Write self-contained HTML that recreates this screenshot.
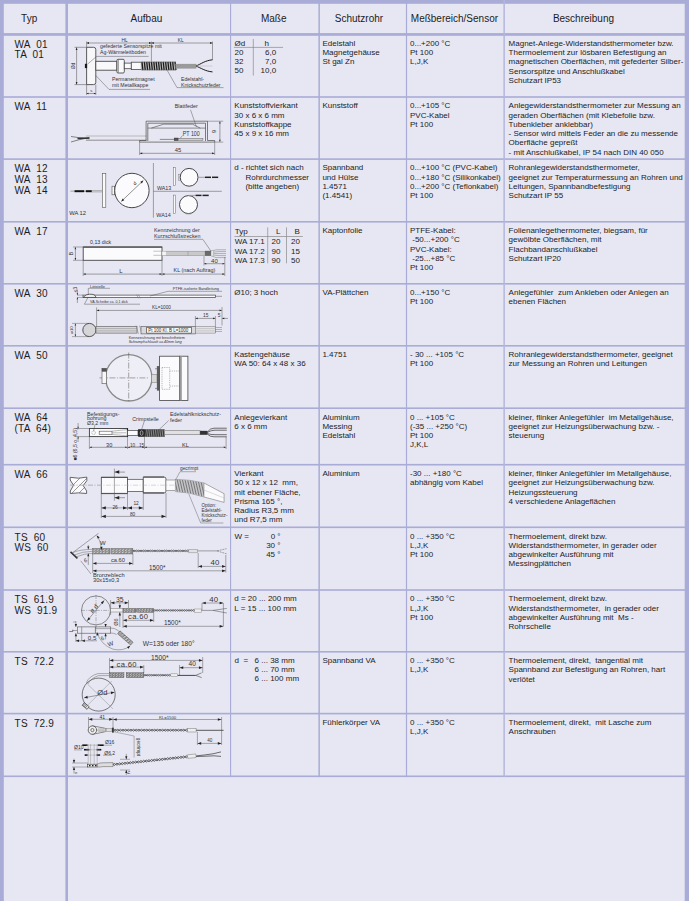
<!DOCTYPE html>
<html><head><meta charset="utf-8"><style>
html,body{margin:0;padding:0;}
body{width:689px;height:901px;position:relative;overflow:hidden;background:#e7e7f3;font-family:"Liberation Sans",sans-serif;color:#1c1c1c;}
</style></head><body>
<svg style="position:absolute;left:0;top:0" width="689" height="901"><rect x="0" y="0" width="689" height="3.8" fill="#a8acd6"/><rect x="0" y="0" width="3.8" height="901" fill="#a8acd6"/><rect x="684.7" y="0" width="4.3" height="901" fill="#a8acd6"/><rect x="0" y="33.1" width="689" height="2.7" fill="#a8acd6"/><rect x="65.4" y="0" width="2.6" height="901" fill="#a8acd6"/><rect x="0" y="96.2" width="689" height="1.6" fill="#a8acd6"/><rect x="0" y="158.29999999999998" width="689" height="1.6" fill="#a8acd6"/><rect x="0" y="221.0" width="689" height="1.6" fill="#a8acd6"/><rect x="0" y="283.0" width="689" height="1.6" fill="#a8acd6"/><rect x="0" y="345.0" width="689" height="1.6" fill="#a8acd6"/><rect x="0" y="407.4" width="689" height="1.6" fill="#a8acd6"/><rect x="0" y="463.9" width="689" height="1.6" fill="#a8acd6"/><rect x="0" y="526.5" width="689" height="1.6" fill="#a8acd6"/><rect x="0" y="589.2" width="689" height="1.6" fill="#a8acd6"/><rect x="0" y="651.0" width="689" height="1.6" fill="#a8acd6"/><rect x="0" y="712.8000000000001" width="689" height="1.6" fill="#a8acd6"/><rect x="0" y="775.5" width="689" height="1.6" fill="#a8acd6"/><rect x="230.0" y="0" width="1.15" height="777.1" fill="#a8acd6"/><rect x="318.4" y="0" width="1.5" height="777.1" fill="#a8acd6"/><rect x="405.9" y="0" width="1.2" height="777.1" fill="#a8acd6"/><rect x="503.4" y="0" width="1.5" height="777.1" fill="#b4b7dc"/></svg>
<div style="position:absolute;left:21.1px;top:13.88px;font-size:10px;line-height:10.7px;white-space:pre">Typ</div>
<div style="position:absolute;left:130.6px;top:13.88px;font-size:10px;line-height:10.7px;white-space:pre">Aufbau</div>
<div style="position:absolute;left:260.9px;top:13.88px;font-size:10px;line-height:10.7px;white-space:pre">Maße</div>
<div style="position:absolute;left:334.8px;top:13.88px;font-size:10px;line-height:10.7px;white-space:pre">Schutzrohr</div>
<div style="position:absolute;left:410.8px;top:13.88px;font-size:10px;line-height:10.7px;white-space:pre">Meßbereich/Sensor</div>
<div style="position:absolute;left:552.9px;top:13.88px;font-size:10px;line-height:10.7px;white-space:pre">Beschreibung</div>
<div style="position:absolute;left:14.6px;top:39.78px;font-size:10px;line-height:10.7px;white-space:pre;letter-spacing:0.2px">WA  01
TA  01</div>
<div style="position:absolute;left:322.4px;top:38.80px;font-size:8px;line-height:9.25px;white-space:pre">Edelstahl
Magnetgehäuse
St gal Zn</div>
<div style="position:absolute;left:410px;top:38.80px;font-size:8px;line-height:9.25px;white-space:pre">0...+200 °C
Pt 100
L,J,K</div>
<div style="position:absolute;left:508.6px;top:38.80px;font-size:8px;line-height:9.25px;white-space:pre">Magnet-Anlege-Widerstandsthermometer bzw.
Thermoelement zur lösbaren Befestigung an
magnetischen Oberflächen, mit gefederter Silber-
Sensorspitze und Anschlußkabel
Schutzart IP53</div>
<div style="position:absolute;left:14.6px;top:102.28px;font-size:10px;line-height:10.7px;white-space:pre;letter-spacing:0.2px">WA  11</div>
<div style="position:absolute;left:234.3px;top:101.30px;font-size:8px;line-height:9.25px;white-space:pre">Kunststoffvierkant
30 x 6 x 6 mm
Kunststoffkappe
45 x 9 x 16 mm</div>
<div style="position:absolute;left:322.4px;top:101.30px;font-size:8px;line-height:9.25px;white-space:pre">Kunststoff</div>
<div style="position:absolute;left:410px;top:101.30px;font-size:8px;line-height:9.25px;white-space:pre">0...+105 °C
PVC-Kabel
Pt 100</div>
<div style="position:absolute;left:508.6px;top:101.30px;font-size:8px;line-height:9.25px;white-space:pre">Anlegewiderstandsthermometer zur Messung an
geraden Oberflächen (mit Klebefolie bzw.
Tubenkleber anklebbar)
- Sensor wird mittels Feder an die zu messende
Oberfläche gepreßt
- mit Anschlußkabel, IP 54 nach DIN 40 050</div>
<div style="position:absolute;left:14.6px;top:164.38px;font-size:10px;line-height:10.7px;white-space:pre;letter-spacing:0.2px">WA  12
WA  13
WA  14</div>
<div style="position:absolute;left:234.3px;top:163.40px;font-size:8px;line-height:9.25px;white-space:pre">d - richtet sich nach
     Rohrdurchmesser
     (bitte angeben)</div>
<div style="position:absolute;left:322.4px;top:163.40px;font-size:8px;line-height:9.25px;white-space:pre">Spannband
und Hülse
1.4571
(1.4541)</div>
<div style="position:absolute;left:410px;top:163.40px;font-size:8px;line-height:9.25px;white-space:pre">0...+100 °C (PVC-Kabel)
0...+180 °C (Silikonkabel)
0...+200 °C (Teflonkabel)
Pt 100</div>
<div style="position:absolute;left:508.6px;top:163.40px;font-size:8px;line-height:9.25px;white-space:pre">Rohranlegewiderstandsthermometer,
geeignet zur Temperaturmessung an Rohren und
Leitungen, Spannbandbefestigung
Schutzart IP 55</div>
<div style="position:absolute;left:14.6px;top:227.08px;font-size:10px;line-height:10.7px;white-space:pre;letter-spacing:0.2px">WA  17</div>
<div style="position:absolute;left:322.4px;top:226.10px;font-size:8px;line-height:9.25px;white-space:pre">Kaptonfolie</div>
<div style="position:absolute;left:410px;top:226.10px;font-size:8px;line-height:9.25px;white-space:pre">PTFE-Kabel:
 -50...+200 °C
PVC-Kabel:
 -25...+85 °C
Pt 100</div>
<div style="position:absolute;left:508.6px;top:226.10px;font-size:8px;line-height:9.25px;white-space:pre">Folienanlegethermometer, biegsam, für
gewölbte Oberflächen, mit
Flachbandanschlußkabel
Schutzart IP20</div>
<div style="position:absolute;left:14.6px;top:289.08px;font-size:10px;line-height:10.7px;white-space:pre;letter-spacing:0.2px">WA  30</div>
<div style="position:absolute;left:234.3px;top:288.10px;font-size:8px;line-height:9.25px;white-space:pre">Ø10; 3 hoch</div>
<div style="position:absolute;left:322.4px;top:288.10px;font-size:8px;line-height:9.25px;white-space:pre">VA-Plättchen</div>
<div style="position:absolute;left:410px;top:288.10px;font-size:8px;line-height:9.25px;white-space:pre">0...+150 °C
Pt 100</div>
<div style="position:absolute;left:508.6px;top:288.10px;font-size:8px;line-height:9.25px;white-space:pre">Anlegefühler  zum Ankleben oder Anlegen an
ebenen Flächen</div>
<div style="position:absolute;left:14.6px;top:351.08px;font-size:10px;line-height:10.7px;white-space:pre;letter-spacing:0.2px">WA  50</div>
<div style="position:absolute;left:234.3px;top:350.10px;font-size:8px;line-height:9.25px;white-space:pre">Kastengehäuse
WA 50: 64 x 48 x 36</div>
<div style="position:absolute;left:322.4px;top:350.10px;font-size:8px;line-height:9.25px;white-space:pre">1.4751</div>
<div style="position:absolute;left:410px;top:350.10px;font-size:8px;line-height:9.25px;white-space:pre">- 30 ... +105 °C
Pt 100</div>
<div style="position:absolute;left:508.6px;top:350.10px;font-size:8px;line-height:9.25px;white-space:pre">Rohranlegewiderstandsthermometer, geeignet
zur Messung an Rohren und Leitungen</div>
<div style="position:absolute;left:14.6px;top:413.48px;font-size:10px;line-height:10.7px;white-space:pre;letter-spacing:0.2px">WA  64
(TA  64)</div>
<div style="position:absolute;left:234.3px;top:412.50px;font-size:8px;line-height:9.25px;white-space:pre">Anlegevierkant
6 x 6 mm</div>
<div style="position:absolute;left:322.4px;top:412.50px;font-size:8px;line-height:9.25px;white-space:pre">Aluminium
Messing
Edelstahl</div>
<div style="position:absolute;left:410px;top:412.50px;font-size:8px;line-height:9.25px;white-space:pre">0 ... +105 °C
(-35 ... +250 °C)
Pt 100
J,K,L</div>
<div style="position:absolute;left:508.6px;top:412.50px;font-size:8px;line-height:9.25px;white-space:pre">kleiner, flinker Anlegefühler  im Metallgehäuse,
geeignet zur Heizungsüberwachung bzw. -
steuerung</div>
<div style="position:absolute;left:14.6px;top:469.98px;font-size:10px;line-height:10.7px;white-space:pre;letter-spacing:0.2px">WA  66</div>
<div style="position:absolute;left:234.3px;top:469.00px;font-size:8px;line-height:9.25px;white-space:pre">Vierkant
50 x 12 x 12  mm,
mit ebener Fläche,
Prisma 165 °,
Radius R3,5 mm
und R7,5 mm</div>
<div style="position:absolute;left:322.4px;top:469.00px;font-size:8px;line-height:9.25px;white-space:pre">Aluminium</div>
<div style="position:absolute;left:410px;top:469.00px;font-size:8px;line-height:9.25px;white-space:pre">-30 ... +180 °C
abhängig vom Kabel</div>
<div style="position:absolute;left:508.6px;top:469.00px;font-size:8px;line-height:9.25px;white-space:pre">kleiner, flinker Anlegefühler im Metallgehäuse,
geeignet zur Heizungsüberwachung bzw.
Heizungssteuerung
4 verschiedene Anlageflächen</div>
<div style="position:absolute;left:14.6px;top:532.58px;font-size:10px;line-height:10.7px;white-space:pre;letter-spacing:0.2px">TS  60
WS  60</div>
<div style="position:absolute;left:410px;top:531.60px;font-size:8px;line-height:9.25px;white-space:pre">0 ... +350 °C
L,J,K
Pt 100</div>
<div style="position:absolute;left:508.6px;top:531.60px;font-size:8px;line-height:9.25px;white-space:pre">Thermoelement, direkt bzw.
Widerstandsthermometer, in gerader oder
abgewinkelter Ausführung mit
Messingplättchen</div>
<div style="position:absolute;left:14.6px;top:595.28px;font-size:10px;line-height:10.7px;white-space:pre;letter-spacing:0.2px">TS  61.9
WS  91.9</div>
<div style="position:absolute;left:234.3px;top:594.30px;font-size:8px;line-height:9.25px;white-space:pre">d = 20 ... 200 mm
L = 15 ... 100 mm</div>
<div style="position:absolute;left:410px;top:594.30px;font-size:8px;line-height:9.25px;white-space:pre">0 ... +350 °C
L,J,K
Pt 100</div>
<div style="position:absolute;left:508.6px;top:594.30px;font-size:8px;line-height:9.25px;white-space:pre">Thermoelement, direkt bzw.
Widerstandsthermometer,  in gerader oder
abgewinkelter Ausführung mit  Ms -
Rohrschelle</div>
<div style="position:absolute;left:14.6px;top:657.08px;font-size:10px;line-height:10.7px;white-space:pre;letter-spacing:0.2px">TS  72.2</div>
<div style="position:absolute;left:322.4px;top:656.10px;font-size:8px;line-height:9.25px;white-space:pre">Spannband VA</div>
<div style="position:absolute;left:410px;top:656.10px;font-size:8px;line-height:9.25px;white-space:pre">0 ... +350 °C
L,J,K</div>
<div style="position:absolute;left:508.6px;top:656.10px;font-size:8px;line-height:9.25px;white-space:pre">Thermoelement, direkt,  tangential mit
Spannband zur Befestigung an Rohren, hart
verlötet</div>
<div style="position:absolute;left:14.6px;top:718.88px;font-size:10px;line-height:10.7px;white-space:pre;letter-spacing:0.2px">TS  72.9</div>
<div style="position:absolute;left:322.4px;top:717.90px;font-size:8px;line-height:9.25px;white-space:pre">Fühlerkörper VA</div>
<div style="position:absolute;left:410px;top:717.90px;font-size:8px;line-height:9.25px;white-space:pre">0 ... +350 °C
L,J,K</div>
<div style="position:absolute;left:508.6px;top:717.90px;font-size:8px;line-height:9.25px;white-space:pre">Thermoelement, direkt,  mit Lasche zum
Anschrauben</div>

<svg style="position:absolute;left:0;top:0" width="689" height="901" viewBox="0 0 689 901" font-family="Liberation Sans, sans-serif">
<text x="234.5" y="45.5" font-size="8" fill="#1c1c1c" text-anchor="start" >Ød</text>
<text x="264.6" y="45.5" font-size="8" fill="#1c1c1c" text-anchor="start" >h</text>
<line x1="233.9" y1="47.4" x2="283.1" y2="47.4" stroke="#8a8a8a" stroke-width="0.7" />
<line x1="253.3" y1="39" x2="253.3" y2="75.6" stroke="#8a8a8a" stroke-width="0.7" />
<text x="234.5" y="54.75" font-size="8" fill="#1c1c1c" text-anchor="start" >20</text>
<text x="276.1" y="54.75" font-size="8" fill="#1c1c1c" text-anchor="end" >6,0</text>
<text x="234.5" y="64.0" font-size="8" fill="#1c1c1c" text-anchor="start" >32</text>
<text x="276.1" y="64.0" font-size="8" fill="#1c1c1c" text-anchor="end" >7,0</text>
<text x="234.5" y="73.25" font-size="8" fill="#1c1c1c" text-anchor="start" >50</text>
<text x="276.1" y="73.25" font-size="8" fill="#1c1c1c" text-anchor="end" >10,0</text>
<text x="234.7" y="234.0" font-size="8" fill="#1c1c1c" text-anchor="start" >Typ</text>
<text x="280.5" y="234.0" font-size="8" fill="#1c1c1c" text-anchor="end" >L</text>
<text x="299.9" y="234.0" font-size="8" fill="#1c1c1c" text-anchor="end" >B</text>
<line x1="234.4" y1="236.5" x2="302.8" y2="236.5" stroke="#8a8a8a" stroke-width="0.7" />
<line x1="267.7" y1="227.4" x2="267.7" y2="263.3" stroke="#8a8a8a" stroke-width="0.7" />
<line x1="286.5" y1="227.4" x2="286.5" y2="263.3" stroke="#8a8a8a" stroke-width="0.7" />
<text x="234.7" y="244.0" font-size="8" fill="#1c1c1c" text-anchor="start" >WA 17.1</text>
<text x="280.5" y="244.0" font-size="8" fill="#1c1c1c" text-anchor="end" >20</text>
<text x="299.9" y="244.0" font-size="8" fill="#1c1c1c" text-anchor="end" >20</text>
<text x="234.7" y="253.65" font-size="8" fill="#1c1c1c" text-anchor="start" >WA 17.2</text>
<text x="280.5" y="253.65" font-size="8" fill="#1c1c1c" text-anchor="end" >90</text>
<text x="299.9" y="253.65" font-size="8" fill="#1c1c1c" text-anchor="end" >15</text>
<text x="234.7" y="263.3" font-size="8" fill="#1c1c1c" text-anchor="start" >WA 17.3</text>
<text x="280.5" y="263.3" font-size="8" fill="#1c1c1c" text-anchor="end" >90</text>
<text x="299.9" y="263.3" font-size="8" fill="#1c1c1c" text-anchor="end" >50</text>
<text x="234.6" y="538.6" font-size="8" fill="#1c1c1c" text-anchor="start" >W =</text>
<text x="280.5" y="538.6" font-size="8" fill="#1c1c1c" text-anchor="end" >0 °</text>
<text x="280.5" y="547.85" font-size="8" fill="#1c1c1c" text-anchor="end" >30 °</text>
<text x="280.5" y="557.1" font-size="8" fill="#1c1c1c" text-anchor="end" >45 °</text>
<text x="234.4" y="662.8" font-size="8" fill="#1c1c1c" text-anchor="start" >d</text>
<text x="243.5" y="662.8" font-size="8" fill="#1c1c1c" text-anchor="start" >=</text>
<text x="254.6" y="662.8" font-size="8" fill="#1c1c1c" text-anchor="start" >6 ... 38 mm</text>
<text x="254.6" y="672.05" font-size="8" fill="#1c1c1c" text-anchor="start" >6 ... 70 mm</text>
<text x="254.6" y="681.3" font-size="8" fill="#1c1c1c" text-anchor="start" >6 ... 100 mm</text>
<line x1="70.5" y1="551.8" x2="77.4" y2="558.3" stroke="#333" stroke-width="1.6" />
<line x1="72" y1="553.2" x2="98.5" y2="533.3" stroke="#555" stroke-width="0.5" />
<path d="M73,552.5 Q80,549.5 92.7,549.3 M74.8,554.8 Q82,551.5 92.7,551.3 M76.5,556.8 Q84,553.5 92.7,553.3" stroke="#666" stroke-width="0.5" fill="none" />
<rect x="92.7" y="548.5" width="17.39999999999999" height="5.5" rx="0" fill="#8c8c8c" stroke="#555" stroke-width="0.4" />
<line x1="93.50" y1="550.75" x2="95.50" y2="549.55" stroke="#eeeeee" stroke-width="0.7" />
<line x1="96.70" y1="550.75" x2="98.70" y2="549.55" stroke="#eeeeee" stroke-width="0.7" />
<line x1="99.90" y1="550.75" x2="101.90" y2="549.55" stroke="#eeeeee" stroke-width="0.7" />
<line x1="103.10" y1="550.75" x2="105.10" y2="549.55" stroke="#eeeeee" stroke-width="0.7" />
<line x1="106.30" y1="550.75" x2="108.30" y2="549.55" stroke="#eeeeee" stroke-width="0.7" />
<line x1="93.50" y1="552.95" x2="95.50" y2="551.75" stroke="#eeeeee" stroke-width="0.7" />
<line x1="96.70" y1="552.95" x2="98.70" y2="551.75" stroke="#eeeeee" stroke-width="0.7" />
<line x1="99.90" y1="552.95" x2="101.90" y2="551.75" stroke="#eeeeee" stroke-width="0.7" />
<line x1="103.10" y1="552.95" x2="105.10" y2="551.75" stroke="#eeeeee" stroke-width="0.7" />
<line x1="106.30" y1="552.95" x2="108.30" y2="551.75" stroke="#eeeeee" stroke-width="0.7" />
<rect x="111.5" y="548.5" width="21.400000000000006" height="5.5" rx="0" fill="#8c8c8c" stroke="#555" stroke-width="0.4" />
<line x1="112.30" y1="550.75" x2="114.30" y2="549.55" stroke="#eeeeee" stroke-width="0.7" />
<line x1="115.50" y1="550.75" x2="117.50" y2="549.55" stroke="#eeeeee" stroke-width="0.7" />
<line x1="118.70" y1="550.75" x2="120.70" y2="549.55" stroke="#eeeeee" stroke-width="0.7" />
<line x1="121.90" y1="550.75" x2="123.90" y2="549.55" stroke="#eeeeee" stroke-width="0.7" />
<line x1="125.10" y1="550.75" x2="127.10" y2="549.55" stroke="#eeeeee" stroke-width="0.7" />
<line x1="128.30" y1="550.75" x2="130.30" y2="549.55" stroke="#eeeeee" stroke-width="0.7" />
<line x1="112.30" y1="552.95" x2="114.30" y2="551.75" stroke="#eeeeee" stroke-width="0.7" />
<line x1="115.50" y1="552.95" x2="117.50" y2="551.75" stroke="#eeeeee" stroke-width="0.7" />
<line x1="118.70" y1="552.95" x2="120.70" y2="551.75" stroke="#eeeeee" stroke-width="0.7" />
<line x1="121.90" y1="552.95" x2="123.90" y2="551.75" stroke="#eeeeee" stroke-width="0.7" />
<line x1="125.10" y1="552.95" x2="127.10" y2="551.75" stroke="#eeeeee" stroke-width="0.7" />
<line x1="128.30" y1="552.95" x2="130.30" y2="551.75" stroke="#eeeeee" stroke-width="0.7" />
<path d="M132.90,550.90 Q134.06,549.34 135.23,550.90 Q136.39,552.46 137.56,550.90 Q138.72,549.34 139.89,550.90 Q141.05,552.46 142.22,550.90 Q143.38,549.34 144.55,550.90 Q145.71,552.46 146.88,550.90 Q148.04,549.34 149.20,550.90 Q150.37,552.46 151.53,550.90 Q152.70,549.34 153.86,550.90 Q155.03,552.46 156.19,550.90 Q157.36,549.34 158.52,550.90 Q159.69,552.46 160.85,550.90 Q162.01,549.34 163.18,550.90 Q164.34,552.46 165.51,550.90 Q166.67,549.34 167.84,550.90 Q169.00,552.46 170.17,550.90 Q171.33,549.34 172.50,550.90 Q173.66,552.46 174.83,550.90 Q175.99,549.34 177.15,550.90 Q178.32,552.46 179.48,550.90 Q180.65,549.34 181.81,550.90 Q182.98,552.46 184.14,550.90 Q185.31,549.34 186.47,550.90 Q187.64,552.46 188.80,550.90" stroke="#444" stroke-width="0.75" fill="none" />
<path d="M132.90,550.90 Q134.06,552.46 135.23,550.90 Q136.39,549.34 137.56,550.90 Q138.72,552.46 139.89,550.90 Q141.05,549.34 142.22,550.90 Q143.38,552.46 144.55,550.90 Q145.71,549.34 146.88,550.90 Q148.04,552.46 149.20,550.90 Q150.37,549.34 151.53,550.90 Q152.70,552.46 153.86,550.90 Q155.03,549.34 156.19,550.90 Q157.36,552.46 158.52,550.90 Q159.69,549.34 160.85,550.90 Q162.01,552.46 163.18,550.90 Q164.34,549.34 165.51,550.90 Q166.67,552.46 167.84,550.90 Q169.00,549.34 170.17,550.90 Q171.33,552.46 172.50,550.90 Q173.66,549.34 174.83,550.90 Q175.99,552.46 177.15,550.90 Q178.32,549.34 179.48,550.90 Q180.65,552.46 181.81,550.90 Q182.98,549.34 184.14,550.90 Q185.31,552.46 186.47,550.90 Q187.64,549.34 188.80,550.90" stroke="#444" stroke-width="0.75" fill="none" />
<rect x="188.8" y="549.4" width="8.7" height="3.4" rx="0" fill="#e2e2e6" stroke="#888" stroke-width="0.5" />
<line x1="197.5" y1="550.9" x2="217" y2="550.9" stroke="#666" stroke-width="0.6" />
<path d="M217,550.9 L226.5,548.7 M217,550.9 L226.5,553.8" stroke="#666" stroke-width="0.6" fill="none" stroke-dasharray="2,0.8"/>
<line x1="88.3" y1="545" x2="88.3" y2="549.3" stroke="#4a4a4a" stroke-width="0.45" />
<path d="M88.30,549.30 L87.24,546.49 L89.36,546.49Z" fill="#222"/>
<line x1="88.3" y1="565" x2="88.3" y2="553.5" stroke="#4a4a4a" stroke-width="0.45" />
<path d="M88.30,553.50 L89.36,556.31 L87.24,556.31Z" fill="#222"/>
<text x="86.2" y="562.3" font-size="5.5" fill="#333" text-anchor="middle" transform="rotate(-20 86.2 562.3)" >6</text>
<path d="M96.9,535.8 Q100.5,540 101.4,549.8" stroke="#555" stroke-width="0.45" fill="none" />
<path d="M96.70,535.60 L99.66,537.27 L97.83,538.81Z" fill="#222"/>
<path d="M101.40,550.00 L100.20,546.82 L102.60,546.82Z" fill="#222"/>
<text x="100" y="544.5" font-size="6.0" fill="#333" text-anchor="start" >W</text>
<line x1="92.7" y1="554" x2="92.7" y2="573" stroke="#4a4a4a" stroke-width="0.45" />
<line x1="132.9" y1="554" x2="132.9" y2="565" stroke="#4a4a4a" stroke-width="0.45" />
<line x1="198.2" y1="553" x2="198.2" y2="568" stroke="#4a4a4a" stroke-width="0.45" />
<line x1="225.8" y1="555" x2="225.8" y2="572.5" stroke="#4a4a4a" stroke-width="0.45" />
<line x1="92.9" y1="563.4" x2="132.7" y2="563.4" stroke="#4a4a4a" stroke-width="0.45" />
<path d="M92.90,563.40 L96.46,562.06 L96.46,564.74Z" fill="#222"/>
<path d="M132.70,563.40 L129.14,564.74 L129.14,562.06Z" fill="#222"/>
<text x="110.9" y="562.2" font-size="5.7" fill="#333" text-anchor="start" >ca.60</text>
<line x1="92.9" y1="570.8" x2="225.6" y2="570.8" stroke="#4a4a4a" stroke-width="0.45" />
<path d="M92.90,570.80 L96.46,569.46 L96.46,572.14Z" fill="#222"/>
<path d="M225.60,570.80 L222.04,572.14 L222.04,569.46Z" fill="#222"/>
<text x="148.9" y="570.2" font-size="6.3" fill="#333" text-anchor="start" >1500*</text>
<line x1="198.4" y1="566.4" x2="225.6" y2="566.4" stroke="#4a4a4a" stroke-width="0.45" />
<path d="M198.40,566.40 L201.96,565.06 L201.96,567.74Z" fill="#222"/>
<path d="M225.60,566.40 L222.04,567.74 L222.04,565.06Z" fill="#222"/>
<text x="210.6" y="565.2" font-size="7.8" fill="#333" text-anchor="start" >40</text>
<line x1="80.7" y1="560.8" x2="91" y2="574" stroke="#4a4a4a" stroke-width="0.45" />
<text x="93" y="576.6" font-size="5.7" fill="#333" text-anchor="start" >Bronzeblech</text>
<text x="93" y="581.8" font-size="5.7" fill="#333" text-anchor="start" >30x15x0,3</text>
<circle cx="96" cy="610.4" r="14.5" fill="none" stroke="#444" stroke-width="0.6" />
<line x1="81" y1="610.4" x2="124" y2="610.4" stroke="#666" stroke-width="0.45" stroke-dasharray="4,1.2,1,1.2"/>
<line x1="96" y1="595" x2="96" y2="632" stroke="#666" stroke-width="0.45" stroke-dasharray="4,1.2,1,1.2"/>
<line x1="87.2" y1="620.8" x2="104.1" y2="600.5" stroke="#4a4a4a" stroke-width="0.5" />
<path d="M87.20,620.80 L88.45,617.21 L90.50,618.92Z" fill="#222"/>
<path d="M104.10,600.50 L102.85,604.09 L100.80,602.38Z" fill="#222"/>
<text x="95.5" y="610" font-size="6.2" fill="#333" text-anchor="middle" transform="rotate(-50 95.5 610)" >ø d</text>
<rect x="77.6" y="626.9" width="33.1" height="6.3" rx="0" fill="none" stroke="#555" stroke-width="0.6" />
<line x1="81.7" y1="626.9" x2="81.7" y2="641" stroke="#555" stroke-width="0.5" />
<line x1="95.4" y1="626.9" x2="95.4" y2="633.2" stroke="#444" stroke-width="0.6" />
<line x1="95.4" y1="628.6" x2="110.7" y2="628.6" stroke="#666" stroke-width="0.5" />
<line x1="73" y1="622" x2="75.9" y2="622" stroke="#4a4a4a" stroke-width="0.4" />
<line x1="75.9" y1="621" x2="75.9" y2="626.9" stroke="#4a4a4a" stroke-width="0.45" />
<path d="M75.90,626.90 L74.77,623.91 L77.03,623.91Z" fill="#222"/>
<line x1="75.9" y1="641.5" x2="75.9" y2="633.2" stroke="#4a4a4a" stroke-width="0.45" />
<path d="M75.90,633.20 L77.03,636.19 L74.77,636.19Z" fill="#222"/>
<line x1="72" y1="630.5" x2="77" y2="630.5" stroke="#4a4a4a" stroke-width="0.45" />
<line x1="75.9" y1="641" x2="75.9" y2="641.5" stroke="#4a4a4a" stroke-width="0.4" />
<text x="73.2" y="630.8" font-size="5.5" fill="#333" text-anchor="middle" transform="rotate(-90 73.2 630.8)" >L</text>
<line x1="75.9" y1="640.8" x2="81.7" y2="640.8" stroke="#4a4a4a" stroke-width="0.5" />
<path d="M75.90,640.80 L79.08,639.60 L79.08,642.00Z" fill="#222"/>
<path d="M81.70,640.80 L84.88,639.60 L84.88,642.00Z" fill="#222"/>
<line x1="81.7" y1="640.8" x2="97" y2="640.8" stroke="#4a4a4a" stroke-width="0.45" />
<text x="87.8" y="640.3" font-size="6.2" fill="#333" text-anchor="start" >0,5</text>
<line x1="105.6" y1="624.6" x2="105.6" y2="627" stroke="#4a4a4a" stroke-width="0.45" />
<path d="M105.60,627.00 L104.47,624.01 L106.73,624.01Z" fill="#222"/>
<line x1="105.6" y1="639.3" x2="105.6" y2="633.2" stroke="#4a4a4a" stroke-width="0.45" />
<path d="M105.60,633.20 L106.73,636.19 L104.47,636.19Z" fill="#222"/>
<text x="103.3" y="640" font-size="5.5" fill="#333" text-anchor="middle" transform="rotate(-30 103.3 640)" >6</text>
<path d="M110.7,628 Q115,628 118,630.5 L120.5,632.5 M110.7,633 Q114,633 116.5,634.5" stroke="#777" stroke-width="0.6" fill="none" />
<g transform="rotate(41 118.8 632.2)">
<rect x="118.8" y="630.4" width="17.39999999999999" height="3.800000000000068" rx="0" fill="#7a7a7a" stroke="#555" stroke-width="0.4" />
<line x1="119.60" y1="632.14" x2="121.60" y2="630.94" stroke="#dcdcdc" stroke-width="0.7" />
<line x1="122.40" y1="632.14" x2="124.40" y2="630.94" stroke="#dcdcdc" stroke-width="0.7" />
<line x1="125.20" y1="632.14" x2="127.20" y2="630.94" stroke="#dcdcdc" stroke-width="0.7" />
<line x1="128.00" y1="632.14" x2="130.00" y2="630.94" stroke="#dcdcdc" stroke-width="0.7" />
<line x1="130.80" y1="632.14" x2="132.80" y2="630.94" stroke="#dcdcdc" stroke-width="0.7" />
<line x1="133.60" y1="632.14" x2="135.60" y2="630.94" stroke="#dcdcdc" stroke-width="0.7" />
<line x1="119.60" y1="633.66" x2="121.60" y2="632.46" stroke="#dcdcdc" stroke-width="0.7" />
<line x1="122.40" y1="633.66" x2="124.40" y2="632.46" stroke="#dcdcdc" stroke-width="0.7" />
<line x1="125.20" y1="633.66" x2="127.20" y2="632.46" stroke="#dcdcdc" stroke-width="0.7" />
<line x1="128.00" y1="633.66" x2="130.00" y2="632.46" stroke="#dcdcdc" stroke-width="0.7" />
<line x1="130.80" y1="633.66" x2="132.80" y2="632.46" stroke="#dcdcdc" stroke-width="0.7" />
<line x1="133.60" y1="633.66" x2="135.60" y2="632.46" stroke="#dcdcdc" stroke-width="0.7" />
</g>
<path d="M97,632.5 Q101,645 113,649.2 Q123,651.5 130,646" stroke="#555" stroke-width="0.45" fill="none" />
<path d="M97.00,632.20 L98.73,635.13 L96.37,635.54Z" fill="#222"/>
<path d="M130.20,645.80 L128.53,648.76 L126.99,646.93Z" fill="#222"/>
<text x="108.5" y="646.8" font-size="6.2" fill="#333" text-anchor="start" transform="rotate(-20 108.5 646.8)" >W</text>
<line x1="110.6" y1="600" x2="110.6" y2="615" stroke="#4a4a4a" stroke-width="0.45" />
<line x1="128.5" y1="600" x2="128.5" y2="608" stroke="#4a4a4a" stroke-width="0.45" />
<line x1="110.8" y1="602.8" x2="128.3" y2="602.8" stroke="#4a4a4a" stroke-width="0.45" />
<path d="M110.80,602.80 L114.36,601.46 L114.36,604.14Z" fill="#222"/>
<path d="M128.30,602.80 L124.74,604.14 L124.74,601.46Z" fill="#222"/>
<text x="116.1" y="602.1" font-size="6.8" fill="#333" text-anchor="start" >35</text>
<line x1="119.8" y1="602.8" x2="119.8" y2="627" stroke="#4a4a4a" stroke-width="0.45" />
<path d="M119.80,608.40 L118.60,605.22 L121.00,605.22Z" fill="#222"/>
<path d="M119.80,612.20 L121.00,615.38 L118.60,615.38Z" fill="#222"/>
<text x="118.3" y="622" font-size="5.6" fill="#333" text-anchor="middle" transform="rotate(-90 118.3 622)" >Ø6</text>
<rect x="110.6" y="608.4" width="12.4" height="3.6" rx="0" fill="#f0f0f2" stroke="#777" stroke-width="0.5" />
<rect x="123" y="608.4" width="13.5" height="4.0" rx="0" fill="#7a7a7a" stroke="#555" stroke-width="0.4" />
<line x1="123.80" y1="610.20" x2="125.80" y2="609.00" stroke="#dcdcdc" stroke-width="0.7" />
<line x1="126.60" y1="610.20" x2="128.60" y2="609.00" stroke="#dcdcdc" stroke-width="0.7" />
<line x1="129.40" y1="610.20" x2="131.40" y2="609.00" stroke="#dcdcdc" stroke-width="0.7" />
<line x1="132.20" y1="610.20" x2="134.20" y2="609.00" stroke="#dcdcdc" stroke-width="0.7" />
<line x1="123.80" y1="611.80" x2="125.80" y2="610.60" stroke="#dcdcdc" stroke-width="0.7" />
<line x1="126.60" y1="611.80" x2="128.60" y2="610.60" stroke="#dcdcdc" stroke-width="0.7" />
<line x1="129.40" y1="611.80" x2="131.40" y2="610.60" stroke="#dcdcdc" stroke-width="0.7" />
<line x1="132.20" y1="611.80" x2="134.20" y2="610.60" stroke="#dcdcdc" stroke-width="0.7" />
<rect x="137.7" y="608.4" width="16.0" height="4.0" rx="0" fill="#7a7a7a" stroke="#555" stroke-width="0.4" />
<line x1="138.50" y1="610.20" x2="140.50" y2="609.00" stroke="#dcdcdc" stroke-width="0.7" />
<line x1="141.30" y1="610.20" x2="143.30" y2="609.00" stroke="#dcdcdc" stroke-width="0.7" />
<line x1="144.10" y1="610.20" x2="146.10" y2="609.00" stroke="#dcdcdc" stroke-width="0.7" />
<line x1="146.90" y1="610.20" x2="148.90" y2="609.00" stroke="#dcdcdc" stroke-width="0.7" />
<line x1="149.70" y1="610.20" x2="151.70" y2="609.00" stroke="#dcdcdc" stroke-width="0.7" />
<line x1="138.50" y1="611.80" x2="140.50" y2="610.60" stroke="#dcdcdc" stroke-width="0.7" />
<line x1="141.30" y1="611.80" x2="143.30" y2="610.60" stroke="#dcdcdc" stroke-width="0.7" />
<line x1="144.10" y1="611.80" x2="146.10" y2="610.60" stroke="#dcdcdc" stroke-width="0.7" />
<line x1="146.90" y1="611.80" x2="148.90" y2="610.60" stroke="#dcdcdc" stroke-width="0.7" />
<line x1="149.70" y1="611.80" x2="151.70" y2="610.60" stroke="#dcdcdc" stroke-width="0.7" />
<path d="M153.70,610.40 Q154.84,608.84 155.98,610.40 Q157.12,611.96 158.26,610.40 Q159.39,608.84 160.53,610.40 Q161.67,611.96 162.81,610.40 Q163.95,608.84 165.09,610.40 Q166.23,611.96 167.37,610.40 Q168.51,608.84 169.64,610.40 Q170.78,611.96 171.92,610.40 Q173.06,608.84 174.20,610.40 Q175.34,611.96 176.48,610.40 Q177.62,608.84 178.76,610.40 Q179.89,611.96 181.03,610.40 Q182.17,608.84 183.31,610.40 Q184.45,611.96 185.59,610.40 Q186.73,608.84 187.87,610.40 Q189.01,611.96 190.14,610.40 Q191.28,608.84 192.42,610.40 Q193.56,611.96 194.70,610.40" stroke="#444" stroke-width="0.75" fill="none" />
<path d="M153.70,610.40 Q154.84,611.96 155.98,610.40 Q157.12,608.84 158.26,610.40 Q159.39,611.96 160.53,610.40 Q161.67,608.84 162.81,610.40 Q163.95,611.96 165.09,610.40 Q166.23,608.84 167.37,610.40 Q168.51,611.96 169.64,610.40 Q170.78,608.84 171.92,610.40 Q173.06,611.96 174.20,610.40 Q175.34,608.84 176.48,610.40 Q177.62,611.96 178.76,610.40 Q179.89,608.84 181.03,610.40 Q182.17,611.96 183.31,610.40 Q184.45,608.84 185.59,610.40 Q186.73,611.96 187.87,610.40 Q189.01,608.84 190.14,610.40 Q191.28,611.96 192.42,610.40 Q193.56,608.84 194.70,610.40" stroke="#444" stroke-width="0.75" fill="none" />
<rect x="194.7" y="609" width="6.7" height="3.2" rx="0" fill="#f0f0f2" stroke="#888" stroke-width="0.5" />
<path d="M201.4,610.4 L213,610.4 L226.8,608.4 M213,610.4 L226.8,613" stroke="#555" stroke-width="0.55" fill="none" />
<line x1="202" y1="603" x2="202" y2="610" stroke="#4a4a4a" stroke-width="0.45" />
<line x1="223.4" y1="603" x2="223.4" y2="626.5" stroke="#4a4a4a" stroke-width="0.45" />
<line x1="202.2" y1="603" x2="223.2" y2="603" stroke="#4a4a4a" stroke-width="0.45" />
<path d="M202.20,603.00 L205.76,601.66 L205.76,604.34Z" fill="#222"/>
<path d="M223.20,603.00 L219.64,604.34 L219.64,601.66Z" fill="#222"/>
<text x="209.3" y="602.1" font-size="7.8" fill="#333" text-anchor="start" >40</text>
<line x1="123" y1="612" x2="123" y2="628" stroke="#4a4a4a" stroke-width="0.45" />
<line x1="153.7" y1="612" x2="153.7" y2="622" stroke="#4a4a4a" stroke-width="0.45" />
<line x1="123.2" y1="620.3" x2="153.5" y2="620.3" stroke="#4a4a4a" stroke-width="0.45" />
<path d="M123.20,620.30 L126.76,618.96 L126.76,621.64Z" fill="#222"/>
<path d="M153.50,620.30 L149.94,621.64 L149.94,618.96Z" fill="#222"/>
<text x="128.1" y="619.1" font-size="7.6" fill="#333" text-anchor="start" letter-spacing="0.35">ca.60</text>
<line x1="123.2" y1="626.3" x2="223.2" y2="626.3" stroke="#4a4a4a" stroke-width="0.45" />
<path d="M123.20,626.30 L126.76,624.96 L126.76,627.64Z" fill="#222"/>
<path d="M223.20,626.30 L219.64,627.64 L219.64,624.96Z" fill="#222"/>
<text x="164" y="625.3" font-size="6.4" fill="#333" text-anchor="start" >1500*</text>
<text x="142.7" y="646.0" font-size="6.65" fill="#333" text-anchor="start" >W=135 oder 180°</text>
<circle cx="98.7" cy="694.6" r="16.5" fill="none" stroke="#444" stroke-width="0.7" />
<path d="M86.3,682.8 Q89,676 97.9,673.6 L109.5,673.6 M87.8,684 Q91,678.2 98.5,675.6 L109.5,675.6" stroke="#666" stroke-width="0.5" fill="none" />
<line x1="87.4" y1="684" x2="113" y2="708.9" stroke="#777" stroke-width="0.4" />
<line x1="88" y1="704.8" x2="111.8" y2="681" stroke="#777" stroke-width="0.4" />
<line x1="84.1" y1="697.8" x2="114.5" y2="692.2" stroke="#4a4a4a" stroke-width="0.5" />
<path d="M84.10,697.80 L87.36,695.84 L87.84,698.47Z" fill="#222"/>
<path d="M114.50,692.20 L111.24,694.16 L110.76,691.53Z" fill="#222"/>
<text x="97.3" y="694.5" font-size="7.5" fill="#333" text-anchor="start" >Ød</text>
<g transform="rotate(40 85.7 706)">
<rect x="82.5" y="704.3" width="6.4" height="3.4" rx="0" fill="#ddd" stroke="#333" stroke-width="0.6" />
<line x1="83.5" y1="704.3" x2="83.5" y2="707.7" stroke="#333" stroke-width="0.5" />
<line x1="85" y1="704.3" x2="85" y2="707.7" stroke="#333" stroke-width="0.5" />
<line x1="86.5" y1="704.3" x2="86.5" y2="707.7" stroke="#333" stroke-width="0.5" />
</g>
<rect x="109.5" y="672.7" width="14.5" height="4.899999999999977" rx="0" fill="#7a7a7a" stroke="#555" stroke-width="0.4" />
<line x1="110.30" y1="674.77" x2="112.30" y2="673.57" stroke="#dcdcdc" stroke-width="0.7" />
<line x1="113.10" y1="674.77" x2="115.10" y2="673.57" stroke="#dcdcdc" stroke-width="0.7" />
<line x1="115.90" y1="674.77" x2="117.90" y2="673.57" stroke="#dcdcdc" stroke-width="0.7" />
<line x1="118.70" y1="674.77" x2="120.70" y2="673.57" stroke="#dcdcdc" stroke-width="0.7" />
<line x1="121.50" y1="674.77" x2="123.50" y2="673.57" stroke="#dcdcdc" stroke-width="0.7" />
<line x1="110.30" y1="676.73" x2="112.30" y2="675.53" stroke="#dcdcdc" stroke-width="0.7" />
<line x1="113.10" y1="676.73" x2="115.10" y2="675.53" stroke="#dcdcdc" stroke-width="0.7" />
<line x1="115.90" y1="676.73" x2="117.90" y2="675.53" stroke="#dcdcdc" stroke-width="0.7" />
<line x1="118.70" y1="676.73" x2="120.70" y2="675.53" stroke="#dcdcdc" stroke-width="0.7" />
<line x1="121.50" y1="676.73" x2="123.50" y2="675.53" stroke="#dcdcdc" stroke-width="0.7" />
<rect x="126.3" y="672.7" width="17.500000000000014" height="4.899999999999977" rx="0" fill="#7a7a7a" stroke="#555" stroke-width="0.4" />
<line x1="127.10" y1="674.77" x2="129.10" y2="673.57" stroke="#dcdcdc" stroke-width="0.7" />
<line x1="129.90" y1="674.77" x2="131.90" y2="673.57" stroke="#dcdcdc" stroke-width="0.7" />
<line x1="132.70" y1="674.77" x2="134.70" y2="673.57" stroke="#dcdcdc" stroke-width="0.7" />
<line x1="135.50" y1="674.77" x2="137.50" y2="673.57" stroke="#dcdcdc" stroke-width="0.7" />
<line x1="138.30" y1="674.77" x2="140.30" y2="673.57" stroke="#dcdcdc" stroke-width="0.7" />
<line x1="141.10" y1="674.77" x2="143.10" y2="673.57" stroke="#dcdcdc" stroke-width="0.7" />
<line x1="127.10" y1="676.73" x2="129.10" y2="675.53" stroke="#dcdcdc" stroke-width="0.7" />
<line x1="129.90" y1="676.73" x2="131.90" y2="675.53" stroke="#dcdcdc" stroke-width="0.7" />
<line x1="132.70" y1="676.73" x2="134.70" y2="675.53" stroke="#dcdcdc" stroke-width="0.7" />
<line x1="135.50" y1="676.73" x2="137.50" y2="675.53" stroke="#dcdcdc" stroke-width="0.7" />
<line x1="138.30" y1="676.73" x2="140.30" y2="675.53" stroke="#dcdcdc" stroke-width="0.7" />
<line x1="141.10" y1="676.73" x2="143.10" y2="675.53" stroke="#dcdcdc" stroke-width="0.7" />
<path d="M143.80,675.20 Q144.93,673.64 146.05,675.20 Q147.18,676.76 148.30,675.20 Q149.43,673.64 150.55,675.20 Q151.68,676.76 152.80,675.20 Q153.93,673.64 155.05,675.20 Q156.18,676.76 157.30,675.20 Q158.43,673.64 159.55,675.20 Q160.68,676.76 161.80,675.20 Q162.93,673.64 164.05,675.20 Q165.18,676.76 166.30,675.20 Q167.43,673.64 168.55,675.20 Q169.68,676.76 170.80,675.20" stroke="#444" stroke-width="0.75" fill="none" />
<path d="M143.80,675.20 Q144.93,676.76 146.05,675.20 Q147.18,673.64 148.30,675.20 Q149.43,676.76 150.55,675.20 Q151.68,673.64 152.80,675.20 Q153.93,676.76 155.05,675.20 Q156.18,673.64 157.30,675.20 Q158.43,676.76 159.55,675.20 Q160.68,673.64 161.80,675.20 Q162.93,676.76 164.05,675.20 Q165.18,673.64 166.30,675.20 Q167.43,676.76 168.55,675.20 Q169.68,673.64 170.80,675.20" stroke="#444" stroke-width="0.75" fill="none" />
<rect x="170.8" y="673.8" width="6.9" height="2.8" rx="0" fill="#eee" stroke="#888" stroke-width="0.5" />
<line x1="177.7" y1="675.4" x2="195.7" y2="675.4" stroke="#333" stroke-width="0.9" />
<path d="M195.7,675.4 L201.6,672.9 M195.7,675.4 L201.6,677.6" stroke="#444" stroke-width="0.6" fill="none" />
<line x1="109.5" y1="658" x2="109.5" y2="673" stroke="#4a4a4a" stroke-width="0.45" />
<line x1="143.8" y1="665" x2="143.8" y2="673" stroke="#4a4a4a" stroke-width="0.45" />
<line x1="179.5" y1="665" x2="179.5" y2="675" stroke="#4a4a4a" stroke-width="0.45" />
<line x1="202.7" y1="657" x2="202.7" y2="673" stroke="#4a4a4a" stroke-width="0.45" />
<line x1="109.7" y1="660.4" x2="202.5" y2="660.4" stroke="#4a4a4a" stroke-width="0.45" />
<path d="M109.70,660.40 L113.26,659.06 L113.26,661.74Z" fill="#222"/>
<path d="M202.50,660.40 L198.94,661.74 L198.94,659.06Z" fill="#222"/>
<text x="151" y="659.5" font-size="6.7" fill="#333" text-anchor="start" >1500*</text>
<line x1="109.7" y1="667.1" x2="143.6" y2="667.1" stroke="#4a4a4a" stroke-width="0.45" />
<path d="M109.70,667.10 L113.26,665.76 L113.26,668.44Z" fill="#222"/>
<path d="M143.60,667.10 L140.04,668.44 L140.04,665.76Z" fill="#222"/>
<text x="116.5" y="666.5" font-size="7.6" fill="#333" text-anchor="start" letter-spacing="0.35">ca.60</text>
<line x1="179.7" y1="667.7" x2="202.5" y2="667.7" stroke="#4a4a4a" stroke-width="0.45" />
<path d="M179.70,667.70 L183.26,666.36 L183.26,669.04Z" fill="#222"/>
<path d="M202.50,667.70 L198.94,669.04 L198.94,666.36Z" fill="#222"/>
<text x="188.6" y="666.2" font-size="6.6" fill="#333" text-anchor="start" >40</text>
<path d="M92.4,725.9 L104.1,728 Q106.1,728.2 106.1,730 Q106.1,731.8 104.1,732 L92.4,734.3 Z" stroke="#444" stroke-width="0.6" fill="#eee" />
<circle cx="92.4" cy="730.1" r="4.2" fill="#eee" stroke="#333" stroke-width="0.7" />
<circle cx="92.4" cy="730.1" r="1.6" fill="none" stroke="#333" stroke-width="0.6" />
<line x1="96.5" y1="730.1" x2="105" y2="730.1" stroke="#666" stroke-width="0.5" />
<line x1="98" y1="728.8" x2="104" y2="728.8" stroke="#777" stroke-width="0.4" />
<line x1="98" y1="731.4" x2="104" y2="731.4" stroke="#777" stroke-width="0.4" />
<rect x="106.1" y="728.6" width="5.9" height="3.0" rx="0" fill="#ddd" stroke="#666" stroke-width="0.4" />
<rect x="112" y="727.7" width="1.8" height="4.8" rx="0" fill="#333" stroke="none" stroke-width="0" />
<path d="M113.80,730.20 Q115.12,728.32 116.44,730.20 Q117.76,732.09 119.08,730.20 Q120.40,728.32 121.72,730.20 Q123.04,732.09 124.36,730.20 Q125.68,728.32 127.00,730.20 Q128.32,732.09 129.64,730.20 Q130.96,728.32 132.27,730.20 Q133.59,732.09 134.91,730.20 Q136.23,728.32 137.55,730.20 Q138.87,732.09 140.19,730.20 Q141.51,728.32 142.83,730.20 Q144.15,732.09 145.47,730.20 Q146.79,728.32 148.11,730.20 Q149.43,732.09 150.75,730.20 Q152.07,728.32 153.39,730.20 Q154.71,732.09 156.03,730.20 Q157.35,728.32 158.67,730.20 Q159.99,732.09 161.31,730.20 Q162.63,728.32 163.95,730.20 Q165.27,732.09 166.59,730.20 Q167.91,728.32 169.22,730.20 Q170.54,732.09 171.86,730.20 Q173.18,728.32 174.50,730.20 Q175.82,732.09 177.14,730.20 Q178.46,728.32 179.78,730.20 Q181.10,732.09 182.42,730.20 Q183.74,728.32 185.06,730.20 Q186.38,732.09 187.70,730.20" stroke="#444" stroke-width="0.8" fill="none" />
<path d="M113.80,730.20 Q115.12,732.09 116.44,730.20 Q117.76,728.32 119.08,730.20 Q120.40,732.09 121.72,730.20 Q123.04,728.32 124.36,730.20 Q125.68,732.09 127.00,730.20 Q128.32,728.32 129.64,730.20 Q130.96,732.09 132.27,730.20 Q133.59,728.32 134.91,730.20 Q136.23,732.09 137.55,730.20 Q138.87,728.32 140.19,730.20 Q141.51,732.09 142.83,730.20 Q144.15,728.32 145.47,730.20 Q146.79,732.09 148.11,730.20 Q149.43,728.32 150.75,730.20 Q152.07,732.09 153.39,730.20 Q154.71,728.32 156.03,730.20 Q157.35,732.09 158.67,730.20 Q159.99,728.32 161.31,730.20 Q162.63,732.09 163.95,730.20 Q165.27,728.32 166.59,730.20 Q167.91,732.09 169.22,730.20 Q170.54,728.32 171.86,730.20 Q173.18,732.09 174.50,730.20 Q175.82,728.32 177.14,730.20 Q178.46,732.09 179.78,730.20 Q181.10,728.32 182.42,730.20 Q183.74,732.09 185.06,730.20 Q186.38,728.32 187.70,730.20" stroke="#444" stroke-width="0.8" fill="none" />
<rect x="187.7" y="728.5" width="8.4" height="3.5" rx="0" fill="#eee" stroke="#777" stroke-width="0.5" />
<line x1="196.1" y1="730.3" x2="223.6" y2="730.3" stroke="#333" stroke-width="0.8" />
<line x1="88.5" y1="717" x2="88.5" y2="728" stroke="#4a4a4a" stroke-width="0.45" />
<line x1="113" y1="717" x2="113" y2="733" stroke="#4a4a4a" stroke-width="0.45" />
<line x1="88.7" y1="719.3" x2="112.8" y2="719.3" stroke="#4a4a4a" stroke-width="0.45" />
<path d="M88.70,719.30 L92.26,717.96 L92.26,720.64Z" fill="#222"/>
<path d="M112.80,719.30 L109.24,720.64 L109.24,717.96Z" fill="#222"/>
<line x1="113.2" y1="719.5" x2="221.4" y2="719.5" stroke="#4a4a4a" stroke-width="0.45" />
<path d="M113.20,719.50 L116.76,718.16 L116.76,720.84Z" fill="#222"/>
<path d="M221.40,719.50 L217.84,720.84 L217.84,718.16Z" fill="#222"/>
<text x="99.4" y="719.2" font-size="5.0" fill="#333" text-anchor="start" >41</text>
<text x="158.9" y="718.6" font-size="4.3" fill="#333" text-anchor="start" >KL=1500</text>
<line x1="197.4" y1="732" x2="197.4" y2="745" stroke="#4a4a4a" stroke-width="0.45" />
<line x1="221.6" y1="717" x2="221.6" y2="745" stroke="#4a4a4a" stroke-width="0.45" />
<line x1="197.6" y1="743.4" x2="221.4" y2="743.4" stroke="#4a4a4a" stroke-width="0.45" />
<path d="M197.60,743.40 L201.16,742.06 L201.16,744.74Z" fill="#222"/>
<path d="M221.40,743.40 L217.84,744.74 L217.84,742.06Z" fill="#222"/>
<text x="207.2" y="742.4" font-size="4.6" fill="#333" text-anchor="start" >40</text>
<path d="M114.4,731.9 L134.1,736 L134.1,757.5" stroke="#555" stroke-width="0.4" fill="none" />
<text x="137.2" y="737.8" font-size="4.8" fill="#333" text-anchor="start" transform="rotate(90 137.2 737.8)" >gecrimpt</text>
<line x1="82.3" y1="745.2" x2="87.6" y2="745.2" stroke="#111" stroke-width="1.6" />
<line x1="97.8" y1="745.2" x2="103.7" y2="745.2" stroke="#111" stroke-width="1.6" />
<line x1="84" y1="749.7" x2="89.4" y2="749.7" stroke="#111" stroke-width="1.6" />
<line x1="96.6" y1="749.7" x2="101.3" y2="749.7" stroke="#111" stroke-width="1.6" />
<line x1="84.7" y1="755.1" x2="87.6" y2="755.1" stroke="#111" stroke-width="1.6" />
<line x1="96.6" y1="755.1" x2="100.1" y2="755.1" stroke="#111" stroke-width="1.6" />
<line x1="88.2" y1="744" x2="88.2" y2="765" stroke="#888" stroke-width="0.45" />
<line x1="90.6" y1="744" x2="90.6" y2="765" stroke="#888" stroke-width="0.45" />
<line x1="94.2" y1="744" x2="94.2" y2="765" stroke="#888" stroke-width="0.45" />
<line x1="97.2" y1="744" x2="97.2" y2="765" stroke="#888" stroke-width="0.45" />
<line x1="86" y1="745.2" x2="100" y2="745.2" stroke="#888" stroke-width="0.4" />
<line x1="86" y1="749.7" x2="100" y2="749.7" stroke="#888" stroke-width="0.4" />
<line x1="86" y1="755.1" x2="100" y2="755.1" stroke="#888" stroke-width="0.4" />
<text x="104.9" y="744.4" font-size="5.0" fill="#333" text-anchor="start" >Ø16</text>
<line x1="104" y1="745.2" x2="112" y2="745.2" stroke="#4a4a4a" stroke-width="0.4" />
<text x="74" y="749.3" font-size="5.0" fill="#333" text-anchor="start" >Ø10</text>
<line x1="74" y1="749.9" x2="82" y2="749.9" stroke="#4a4a4a" stroke-width="0.4" />
<text x="104.3" y="754.6" font-size="5.0" fill="#333" text-anchor="start" >Ø6.2</text>
<line x1="103" y1="755.3" x2="112" y2="755.3" stroke="#4a4a4a" stroke-width="0.4" />
<rect x="87.6" y="764.2" width="9.6" height="2.8" rx="0" fill="#eee" stroke="#333" stroke-width="0.6" />
<line x1="89" y1="765.6" x2="90.5" y2="765.6" stroke="#222" stroke-width="1.2" />
<line x1="92" y1="765.6" x2="93.5" y2="765.6" stroke="#222" stroke-width="1.2" />
<line x1="95" y1="765.6" x2="96.5" y2="765.6" stroke="#222" stroke-width="1.2" />
<path d="M97.2,764.2 Q100,762.5 103,762.8 L113,762.6 L113,766.6 L103,766.6 Q100,767.2 97.2,767 Z" stroke="#555" stroke-width="0.5" fill="#ddd" />
<g transform="rotate(-6.1 113 764.6)">
<path d="M113.00,764.60 Q114.34,762.52 115.68,764.60 Q117.02,766.68 118.36,764.60 Q119.70,762.52 121.04,764.60 Q122.38,766.68 123.71,764.60 Q125.05,762.52 126.39,764.60 Q127.73,766.68 129.07,764.60 Q130.41,762.52 131.75,764.60 Q133.09,766.68 134.43,764.60 Q135.77,762.52 137.11,764.60 Q138.45,766.68 139.79,764.60 Q141.12,762.52 142.46,764.60 Q143.80,766.68 145.14,764.60 Q146.48,762.52 147.82,764.60 Q149.16,766.68 150.50,764.60 Q151.84,762.52 153.18,764.60 Q154.52,766.68 155.86,764.60 Q157.20,762.52 158.54,764.60 Q159.88,766.68 161.21,764.60 Q162.55,762.52 163.89,764.60 Q165.23,766.68 166.57,764.60 Q167.91,762.52 169.25,764.60 Q170.59,766.68 171.93,764.60 Q173.27,762.52 174.61,764.60 Q175.95,766.68 177.29,764.60 Q178.62,762.52 179.96,764.60 Q181.30,766.68 182.64,764.60 Q183.98,762.52 185.32,764.60 Q186.66,766.68 188.00,764.60" stroke="#444" stroke-width="0.8" fill="none" />
<path d="M113.00,764.60 Q114.34,766.68 115.68,764.60 Q117.02,762.52 118.36,764.60 Q119.70,766.68 121.04,764.60 Q122.38,762.52 123.71,764.60 Q125.05,766.68 126.39,764.60 Q127.73,762.52 129.07,764.60 Q130.41,766.68 131.75,764.60 Q133.09,762.52 134.43,764.60 Q135.77,766.68 137.11,764.60 Q138.45,762.52 139.79,764.60 Q141.12,766.68 142.46,764.60 Q143.80,762.52 145.14,764.60 Q146.48,766.68 147.82,764.60 Q149.16,762.52 150.50,764.60 Q151.84,766.68 153.18,764.60 Q154.52,762.52 155.86,764.60 Q157.20,766.68 158.54,764.60 Q159.88,762.52 161.21,764.60 Q162.55,766.68 163.89,764.60 Q165.23,762.52 166.57,764.60 Q167.91,766.68 169.25,764.60 Q170.59,762.52 171.93,764.60 Q173.27,766.68 174.61,764.60 Q175.95,762.52 177.29,764.60 Q178.62,766.68 179.96,764.60 Q181.30,762.52 182.64,764.60 Q183.98,766.68 185.32,764.60 Q186.66,762.52 188.00,764.60" stroke="#444" stroke-width="0.8" fill="none" />
<rect x="188" y="762.8" width="8.4" height="3.6" rx="0" fill="#eee" stroke="#777" stroke-width="0.5" />
</g>
<path d="M196.2,755.9 Q205,755 213,753.8 L221,751.9 M196.2,756.5 Q208,756.2 214,755.8 L221,756.4" stroke="#333" stroke-width="0.7" fill="none" />
<line x1="72" y1="763" x2="88" y2="763" stroke="#4a4a4a" stroke-width="0.4" />
<line x1="72" y1="767" x2="88" y2="767" stroke="#4a4a4a" stroke-width="0.4" />
<line x1="74" y1="758.6" x2="74" y2="763" stroke="#4a4a4a" stroke-width="0.45" />
<path d="M74.00,763.00 L72.87,760.01 L75.13,760.01Z" fill="#222"/>
<line x1="74" y1="773.5" x2="74" y2="767" stroke="#4a4a4a" stroke-width="0.45" />
<path d="M74.00,767.00 L75.13,769.99 L72.87,769.99Z" fill="#222"/>
<text x="77.3" y="772.8" font-size="4.4" fill="#333" text-anchor="middle" transform="rotate(-90 77.3 772.8)" >s</text>
<line x1="120" y1="759.3" x2="130" y2="759.3" stroke="#4a4a4a" stroke-width="0.4" />
<line x1="120" y1="770" x2="130" y2="770" stroke="#4a4a4a" stroke-width="0.4" />
<line x1="126.3" y1="753.8" x2="126.3" y2="759.3" stroke="#4a4a4a" stroke-width="0.45" />
<path d="M126.30,759.30 L125.17,756.31 L127.43,756.31Z" fill="#222"/>
<line x1="126.3" y1="775" x2="126.3" y2="770" stroke="#4a4a4a" stroke-width="0.45" />
<path d="M126.30,770.00 L127.43,772.99 L125.17,772.99Z" fill="#222"/>
<text x="130" y="772.5" font-size="4.4" fill="#333" text-anchor="middle" transform="rotate(-90 130 772.5)" >h</text>
<path d="M86.6,47.3 L93.6,47.3 Q95.8,47.3 95.8,49.5 L95.8,82.4 Q95.8,84.6 93.6,84.6 L86.6,84.6 Z" stroke="#4a4a4a" stroke-width="0.9" fill="#f7f7f9" />
<rect x="84.9" y="63.8" width="2.2" height="4.3" rx="0" fill="#1a1a1a" stroke="none" stroke-width="0" />
<rect x="95.8" y="61.3" width="21.1" height="8.9" rx="0" fill="#f9f9fb" stroke="#4a4a4a" stroke-width="0.9" />
<rect x="116.9" y="59.3" width="7.4" height="13.7" rx="1.2" fill="#f9f9fb" stroke="#4a4a4a" stroke-width="0.9" />
<line x1="118.3" y1="59.6" x2="118.3" y2="72.7" stroke="#4a4a4a" stroke-width="0.6" />
<rect x="124.3" y="63.1" width="7.0" height="5.6" rx="0" fill="#f9f9fb" stroke="#4a4a4a" stroke-width="0.8" />
<rect x="131.3" y="62.2" width="10" height="7.4" rx="0" fill="#f9f9fb" stroke="#4a4a4a" stroke-width="0.8" />
<rect x="141.3" y="61.8" width="34.39999999999998" height="8.400000000000006" rx="0" fill="#bdbdbd" stroke="none" stroke-width="0" />
<line x1="142.00" y1="61.9" x2="142.90" y2="70.10000000000001" stroke="#1a1a1a" stroke-width="1.25" />
<line x1="144.36" y1="61.9" x2="145.26" y2="70.10000000000001" stroke="#1a1a1a" stroke-width="1.25" />
<line x1="146.72" y1="61.9" x2="147.62" y2="70.10000000000001" stroke="#1a1a1a" stroke-width="1.25" />
<line x1="149.08" y1="61.9" x2="149.98" y2="70.10000000000001" stroke="#1a1a1a" stroke-width="1.25" />
<line x1="151.44" y1="61.9" x2="152.34" y2="70.10000000000001" stroke="#1a1a1a" stroke-width="1.25" />
<line x1="153.80" y1="61.9" x2="154.70" y2="70.10000000000001" stroke="#1a1a1a" stroke-width="1.25" />
<line x1="156.16" y1="61.9" x2="157.06" y2="70.10000000000001" stroke="#1a1a1a" stroke-width="1.25" />
<line x1="158.52" y1="61.9" x2="159.42" y2="70.10000000000001" stroke="#1a1a1a" stroke-width="1.25" />
<line x1="160.88" y1="61.9" x2="161.78" y2="70.10000000000001" stroke="#1a1a1a" stroke-width="1.25" />
<line x1="163.24" y1="61.9" x2="164.14" y2="70.10000000000001" stroke="#1a1a1a" stroke-width="1.25" />
<line x1="165.60" y1="61.9" x2="166.50" y2="70.10000000000001" stroke="#1a1a1a" stroke-width="1.25" />
<line x1="167.96" y1="61.9" x2="168.86" y2="70.10000000000001" stroke="#1a1a1a" stroke-width="1.25" />
<line x1="170.32" y1="61.9" x2="171.22" y2="70.10000000000001" stroke="#1a1a1a" stroke-width="1.25" />
<line x1="172.68" y1="61.9" x2="173.58" y2="70.10000000000001" stroke="#1a1a1a" stroke-width="1.25" />
<line x1="175.04" y1="61.9" x2="175.94" y2="70.10000000000001" stroke="#1a1a1a" stroke-width="1.25" />
<line x1="141.3" y1="62.099999999999994" x2="175.7" y2="62.099999999999994" stroke="#555" stroke-width="0.6" />
<line x1="141.3" y1="69.9" x2="175.7" y2="69.9" stroke="#555" stroke-width="0.6" />
<rect x="175.7" y="64.1" width="20.4" height="4.1" rx="0" fill="#9a9a9a" stroke="#888" stroke-width="0.4" />
<path d="M196,66 C201,64 205,60.5 212.5,59.8" stroke="#1a1a1a" stroke-width="1.0" fill="none" />
<path d="M196,66 C201,68 205,71.2 212.5,71.9" stroke="#1a1a1a" stroke-width="1.0" fill="none" />
<path d="M196,66 L212.5,66" stroke="#bbb" stroke-width="0.6" fill="none" />
<line x1="86.6" y1="43" x2="151.4" y2="43" stroke="#4a4a4a" stroke-width="0.5" />
<path d="M86.60,43.00 L89.03,42.08 L89.03,43.92Z" fill="#222"/>
<path d="M151.40,43.00 L148.97,43.92 L148.97,42.08Z" fill="#222"/>
<line x1="151.4" y1="43" x2="212.5" y2="43" stroke="#4a4a4a" stroke-width="0.5" />
<path d="M151.40,43.00 L153.83,42.08 L153.83,43.92Z" fill="#222"/>
<path d="M212.50,43.00 L210.07,43.92 L210.07,42.08Z" fill="#222"/>
<line x1="86.6" y1="41.5" x2="86.6" y2="47.3" stroke="#4a4a4a" stroke-width="0.5" />
<line x1="151.4" y1="41.5" x2="151.4" y2="61.5" stroke="#4a4a4a" stroke-width="0.5" />
<line x1="212.5" y1="41.5" x2="212.5" y2="60" stroke="#4a4a4a" stroke-width="0.5" />
<text x="121.5" y="42.0" font-size="4.8" fill="#333" text-anchor="start" >HL</text>
<text x="177.8" y="42.0" font-size="4.8" fill="#333" text-anchor="start" >KL</text>
<line x1="76.6" y1="47.5" x2="76.6" y2="84.4" stroke="#4a4a4a" stroke-width="0.5" />
<path d="M76.60,47.50 L77.52,49.93 L75.68,49.93Z" fill="#222"/>
<path d="M76.60,84.40 L75.68,81.97 L77.52,81.97Z" fill="#222"/>
<line x1="74.5" y1="47.3" x2="86.6" y2="47.3" stroke="#4a4a4a" stroke-width="0.5" />
<line x1="74.5" y1="84.6" x2="86.6" y2="84.6" stroke="#4a4a4a" stroke-width="0.5" />
<text x="75.0" y="66" font-size="5.0" fill="#333" text-anchor="middle" transform="rotate(-90 75.0 66)" >Ød</text>
<line x1="86.6" y1="84.6" x2="86.6" y2="95" stroke="#4a4a4a" stroke-width="0.5" />
<line x1="95.8" y1="84.6" x2="95.8" y2="95" stroke="#4a4a4a" stroke-width="0.5" />
<line x1="86.6" y1="93.5" x2="95.8" y2="93.5" stroke="#4a4a4a" stroke-width="0.5" />
<path d="M86.60,93.50 L88.47,92.80 L88.47,94.20Z" fill="#222"/>
<path d="M95.80,93.50 L93.93,94.20 L93.93,92.80Z" fill="#222"/>
<text x="90.3" y="92" font-size="4.4" fill="#333" text-anchor="start" >s</text>
<line x1="87.7" y1="64" x2="96.6" y2="56.4" stroke="#4a4a4a" stroke-width="0.45" />
<line x1="96.6" y1="56.4" x2="148.7" y2="56.4" stroke="#4a4a4a" stroke-width="0.45" />
<text x="100.1" y="47.6" font-size="5.2" fill="#333" text-anchor="start" >gefederte Sensorspitze mit</text>
<text x="100.1" y="53.9" font-size="5.2" fill="#333" text-anchor="start" >Ag-Wärmeleitboden</text>
<line x1="95.8" y1="75.5" x2="109" y2="89.4" stroke="#4a4a4a" stroke-width="0.45" />
<line x1="109" y1="89.4" x2="150" y2="89.4" stroke="#4a4a4a" stroke-width="0.45" />
<text x="112" y="81.2" font-size="5.2" fill="#333" text-anchor="start" >Permanentmagnet</text>
<text x="112" y="87.4" font-size="5.2" fill="#333" text-anchor="start" >mit Metallkappe</text>
<line x1="167" y1="70" x2="177" y2="87.6" stroke="#4a4a4a" stroke-width="0.45" />
<line x1="177" y1="87.6" x2="223.5" y2="87.6" stroke="#4a4a4a" stroke-width="0.45" />
<text x="181" y="80.6" font-size="5.2" fill="#333" text-anchor="start" >Edelstahl-</text>
<text x="181" y="86.6" font-size="5.2" fill="#333" text-anchor="start" >Knickschutzfeder</text>
<line x1="85.9" y1="136" x2="146.6" y2="136" stroke="#b8b8b8" stroke-width="1.2" />
<line x1="85.9" y1="140.2" x2="146.6" y2="140.2" stroke="#777" stroke-width="0.8" />
<path d="M71,136.5 L78,137.5 L89.4,138.8 M71,142 L78,140 L89.4,137.5" stroke="#666" stroke-width="0.8" fill="none" />
<path d="M77.5,138.5 L89.4,138" stroke="#333" stroke-width="1.6" fill="none" />
<path d="M139.6,140.5 L146.1,140.5 L146.1,121.2 L207.5,121.2 L207.5,140.5 L214.7,140.5 L214.7,142.1 L139.6,142.1 Z" stroke="#4a4a4a" stroke-width="0.7" fill="none" />
<path d="M147.8,141 L147.8,123.2 L205.5,123.2 L205.5,141" stroke="#4a4a4a" stroke-width="0.7" fill="none" />
<line x1="147.8" y1="128.1" x2="205.5" y2="128.1" stroke="#4a4a4a" stroke-width="0.6" />
<path d="M151.3,128.1 L163.7,124.2 L192.5,124.2 L200.3,128.1" stroke="#4a4a4a" stroke-width="0.6" fill="none" />
<line x1="159.8" y1="139.4" x2="174.2" y2="139.4" stroke="#4a4a4a" stroke-width="0.6" />
<rect x="174.2" y="138.3" width="28.7" height="2.0" rx="0" fill="#cfcfcf" stroke="#666" stroke-width="0.5" />
<rect x="174.2" y="138.0" width="3.9" height="2.4" rx="0" fill="#555" stroke="#333" stroke-width="0.4" />
<line x1="180" y1="138.5" x2="182.5" y2="135.5" stroke="#4a4a4a" stroke-width="0.45" />
<text x="182.8" y="135.7" font-size="5.3" fill="#333" text-anchor="start" transform="translate(0 -27.1) scale(1 1.2)">PT 100</text>
<text x="174.8" y="108.0" font-size="5.35" fill="#333" text-anchor="start" >Blattfeder</text>
<line x1="190.5" y1="109.8" x2="196.4" y2="126.8" stroke="#4a4a4a" stroke-width="0.45" />
<line x1="207.5" y1="121.2" x2="223.2" y2="121.2" stroke="#4a4a4a" stroke-width="0.45" />
<line x1="214.7" y1="142.1" x2="223.2" y2="142.1" stroke="#4a4a4a" stroke-width="0.45" />
<line x1="219.9" y1="121.5" x2="219.9" y2="141.8" stroke="#4a4a4a" stroke-width="0.5" />
<path d="M219.90,121.50 L220.68,123.56 L219.12,123.56Z" fill="#222"/>
<path d="M219.90,141.80 L219.12,139.74 L220.68,139.74Z" fill="#222"/>
<text x="216.2" y="131.6" font-size="5.4" fill="#333" text-anchor="middle" transform="rotate(-90 216.2 131.6)" >9</text>
<line x1="139.6" y1="142.1" x2="139.6" y2="155" stroke="#4a4a4a" stroke-width="0.45" />
<line x1="214.7" y1="142.1" x2="214.7" y2="155" stroke="#4a4a4a" stroke-width="0.45" />
<line x1="139.8" y1="153.3" x2="214.5" y2="153.3" stroke="#4a4a4a" stroke-width="0.5" />
<path d="M139.80,153.30 L142.23,152.38 L142.23,154.22Z" fill="#222"/>
<path d="M214.50,153.30 L212.07,154.22 L212.07,152.38Z" fill="#222"/>
<text x="174.8" y="152.1" font-size="5.9" fill="#333" text-anchor="start" >45</text>
<line x1="70.4" y1="191.2" x2="74.5" y2="191.2" stroke="#bbb" stroke-width="1.6" />
<line x1="74.5" y1="191.2" x2="84.1" y2="191.2" stroke="#111" stroke-width="2.0" />
<line x1="85.9" y1="191.2" x2="91.8" y2="191.2" stroke="#111" stroke-width="2.0" />
<line x1="84.1" y1="191.2" x2="85.9" y2="191.2" stroke="#999" stroke-width="1.4" />
<line x1="91.8" y1="190.6" x2="102.3" y2="190.6" stroke="#888" stroke-width="0.6" />
<line x1="91.8" y1="191.9" x2="102.3" y2="191.9" stroke="#888" stroke-width="0.6" />
<rect x="102.4" y="173.3" width="3.4" height="34.3" rx="0" fill="#fafafa" stroke="#555" stroke-width="0.6" />
<rect x="112" y="186.2" width="2.7" height="8.6" rx="0" fill="#fafafa" stroke="#555" stroke-width="0.6" />
<circle cx="131.9" cy="190.5" r="17.2" fill="#fbfbfd" stroke="#333" stroke-width="0.9" />
<line x1="121.3" y1="201.4" x2="143.3" y2="180.5" stroke="#4a4a4a" stroke-width="0.6" />
<path d="M121.30,201.40 L122.69,198.52 L124.25,200.15Z" fill="#222"/>
<path d="M143.30,180.50 L141.91,183.38 L140.35,181.75Z" fill="#222"/>
<text x="136.0" y="184.5" font-size="5.0" fill="#333" text-anchor="middle" transform="rotate(-45 136.0 184.5)" >d</text>
<text x="69.2" y="215.2" font-size="5.8" fill="#333" text-anchor="start" >WA  12</text>
<line x1="153.4" y1="163" x2="153.4" y2="217.7" stroke="#666" stroke-width="0.6" />
<line x1="153.4" y1="191.3" x2="221.8" y2="191.3" stroke="#666" stroke-width="0.6" />
<rect x="173.4" y="167.4" width="2.2" height="18" rx="0" fill="#fafafa" stroke="#666" stroke-width="0.5" />
<rect x="178.3" y="174.5" width="1.8" height="6" rx="0" fill="#ddd" stroke="#777" stroke-width="0.4" />
<circle cx="189.1" cy="177.3" r="8.9" fill="#fbfbfd" stroke="#333" stroke-width="0.9" />
<line x1="198" y1="177.3" x2="205" y2="177.3" stroke="#999" stroke-width="0.9" />
<line x1="205" y1="177.3" x2="211" y2="177.3" stroke="#222" stroke-width="1.5" />
<line x1="212" y1="177.3" x2="218.2" y2="177.3" stroke="#222" stroke-width="1.5" />
<text x="156.9" y="190.0" font-size="5.4" fill="#333" text-anchor="start" >WA13</text>
<rect x="173.4" y="195.1" width="2.2" height="18.5" rx="0" fill="#fafafa" stroke="#666" stroke-width="0.5" />
<circle cx="188.5" cy="204.6" r="9.0" fill="#fbfbfd" stroke="#333" stroke-width="0.9" />
<line x1="188.5" y1="195.4" x2="195.6" y2="195.4" stroke="#999" stroke-width="0.9" />
<line x1="195.6" y1="195.4" x2="201.5" y2="195.4" stroke="#222" stroke-width="1.5" />
<line x1="202.5" y1="195.4" x2="208.7" y2="195.4" stroke="#222" stroke-width="1.5" />
<line x1="186" y1="213.8" x2="191" y2="213.8" stroke="#888" stroke-width="0.8" />
<text x="156.3" y="217.2" font-size="5.4" fill="#333" text-anchor="start" >WA14</text>
<rect x="83.2" y="247" width="78.8" height="13.3" rx="0" fill="#fbfbfd" stroke="#444" stroke-width="0.9" />
<line x1="83.2" y1="247.1" x2="162" y2="247.1" stroke="#555" stroke-width="1.3" />
<line x1="153.4" y1="251.2" x2="162" y2="251.2" stroke="#888" stroke-width="0.5" />
<line x1="153.4" y1="255.3" x2="162" y2="255.3" stroke="#888" stroke-width="0.5" />
<rect x="162" y="251.2" width="43.1" height="4.4" rx="0" fill="#c9c9c9" stroke="#8a8a8a" stroke-width="0.5" />
<rect x="162.3" y="251.6" width="3.6" height="3.6" rx="0" fill="#f4f4f4" stroke="none" stroke-width="0" />
<line x1="188" y1="251.4" x2="188" y2="255.4" stroke="#777" stroke-width="0.4" />
<rect x="205.1" y="251.0" width="6" height="4.8" rx="0" fill="#6a6a6a" stroke="#555" stroke-width="0.3" />
<path d="M211,251.5 L216,249.8 L226,249.8 M211,252.6 L218,251.6 L226,251.6 M211,253.6 L218,253.6 L226,253.6 M211,254.6 L218,255.6 L226,255.6 M211,255.5 L216,257.6 L226,257.6" stroke="#777" stroke-width="0.5" fill="none" />
<rect x="211" y="250.5" width="2.5" height="5.5" rx="0" fill="#e8e8e8" stroke="#888" stroke-width="0.3" />
<line x1="73" y1="247" x2="83.2" y2="247" stroke="#4a4a4a" stroke-width="0.45" />
<line x1="73" y1="260.3" x2="83.2" y2="260.3" stroke="#4a4a4a" stroke-width="0.45" />
<line x1="75.4" y1="247.2" x2="75.4" y2="260.1" stroke="#4a4a4a" stroke-width="0.5" />
<path d="M75.40,247.20 L76.18,249.26 L74.62,249.26Z" fill="#222"/>
<path d="M75.40,260.10 L74.62,258.04 L76.18,258.04Z" fill="#222"/>
<text x="72.8" y="253.6" font-size="5.4" fill="#333" text-anchor="middle" transform="rotate(-90 72.8 253.6)" >B</text>
<text x="90" y="243.8" font-size="5.3" fill="#333" text-anchor="start" >0,13 dick</text>
<text x="154" y="231.8" font-size="5.3" fill="#333" text-anchor="start" >Kennzeichnung der</text>
<text x="154" y="237.8" font-size="5.3" fill="#333" text-anchor="start" >Kurzschlußstrecken</text>
<line x1="154" y1="239.3" x2="202.8" y2="239.3" stroke="#4a4a4a" stroke-width="0.45" />
<line x1="202.8" y1="239.3" x2="211" y2="251.2" stroke="#4a4a4a" stroke-width="0.45" />
<line x1="83.2" y1="260.3" x2="83.2" y2="276" stroke="#4a4a4a" stroke-width="0.45" />
<line x1="162" y1="260.3" x2="162" y2="276" stroke="#4a4a4a" stroke-width="0.45" />
<line x1="204" y1="256" x2="204" y2="265.5" stroke="#4a4a4a" stroke-width="0.45" />
<line x1="224.8" y1="257" x2="224.8" y2="276" stroke="#4a4a4a" stroke-width="0.45" />
<line x1="204.2" y1="263.7" x2="224.6" y2="263.7" stroke="#4a4a4a" stroke-width="0.5" />
<path d="M204.20,263.70 L206.26,262.92 L206.26,264.48Z" fill="#222"/>
<path d="M224.60,263.70 L222.54,264.48 L222.54,262.92Z" fill="#222"/>
<text x="211.1" y="262.9" font-size="6.0" fill="#333" text-anchor="start" >40</text>
<line x1="83.4" y1="274.1" x2="161.8" y2="274.1" stroke="#4a4a4a" stroke-width="0.5" />
<path d="M83.40,274.10 L85.65,273.25 L85.65,274.95Z" fill="#222"/>
<path d="M161.80,274.10 L159.55,274.95 L159.55,273.25Z" fill="#222"/>
<line x1="162.2" y1="274.1" x2="224.6" y2="274.1" stroke="#4a4a4a" stroke-width="0.5" />
<path d="M162.20,274.10 L164.45,273.25 L164.45,274.95Z" fill="#222"/>
<path d="M224.60,274.10 L222.35,274.95 L222.35,273.25Z" fill="#222"/>
<text x="119.2" y="272.9" font-size="6.0" fill="#333" text-anchor="start" >L</text>
<text x="173.6" y="272.4" font-size="5.4" fill="#333" text-anchor="start" >KL (nach Auftrag)</text>
<rect x="83" y="295.1" width="132.4" height="2.4" rx="0" fill="#fbfbfd" stroke="#555" stroke-width="0.8" />
<path d="M83,297.5 Q86,294 89.5,294.2 L93,294.4 Q95.5,295 96.1,297.5 Z" stroke="#444" stroke-width="0.8" fill="#eee" />
<line x1="215.4" y1="296.3" x2="222" y2="296.3" stroke="#666" stroke-width="0.6" />
<line x1="136.5" y1="294.5" x2="138.5" y2="298.3" stroke="#777" stroke-width="0.5" />
<line x1="138.3" y1="294.5" x2="140.3" y2="298.3" stroke="#777" stroke-width="0.5" />
<line x1="77" y1="295.1" x2="83" y2="295.1" stroke="#4a4a4a" stroke-width="0.4" />
<line x1="77" y1="297.5" x2="83" y2="297.5" stroke="#4a4a4a" stroke-width="0.4" />
<line x1="77.4" y1="289.5" x2="77.4" y2="295.1" stroke="#4a4a4a" stroke-width="0.45" />
<path d="M77.40,295.10 L76.70,293.23 L78.10,293.23Z" fill="#222"/>
<line x1="77.4" y1="303" x2="77.4" y2="297.5" stroke="#4a4a4a" stroke-width="0.45" />
<path d="M77.40,297.50 L78.10,299.37 L76.70,299.37Z" fill="#222"/>
<text x="76.6" y="289.5" font-size="4.8" fill="#333" text-anchor="middle" transform="rotate(-90 76.6 289.5)" >≤3</text>
<line x1="88.3" y1="288.3" x2="88.3" y2="295" stroke="#4a4a4a" stroke-width="0.45" />
<line x1="88.3" y1="288.3" x2="110" y2="288.3" stroke="#4a4a4a" stroke-width="0.45" />
<text x="90" y="287.6" font-size="4.0" fill="#333" text-anchor="start" >Lötstelle</text>
<line x1="84.4" y1="304.2" x2="87.9" y2="297.6" stroke="#4a4a4a" stroke-width="0.45" />
<line x1="84.4" y1="304.2" x2="140" y2="304.2" stroke="#4a4a4a" stroke-width="0.45" />
<text x="90" y="303.4" font-size="3.6" fill="#333" text-anchor="start" >VA-Scheibe ca. 0,1 dick</text>
<line x1="150" y1="296" x2="168" y2="291.3" stroke="#4a4a4a" stroke-width="0.45" />
<line x1="168" y1="291.3" x2="222" y2="291.3" stroke="#4a4a4a" stroke-width="0.45" />
<text x="172.7" y="290.2" font-size="3.9" fill="#333" text-anchor="start" >PTFE-isolierte Bandleitung</text>
<line x1="96.6" y1="307.4" x2="96.6" y2="326" stroke="#4a4a4a" stroke-width="0.45" />
<line x1="222" y1="307" x2="222" y2="325.5" stroke="#4a4a4a" stroke-width="0.45" />
<line x1="96.8" y1="310.4" x2="221.8" y2="310.4" stroke="#4a4a4a" stroke-width="0.5" />
<path d="M96.80,310.40 L99.05,309.55 L99.05,311.25Z" fill="#222"/>
<path d="M221.80,310.40 L219.55,311.25 L219.55,309.55Z" fill="#222"/>
<text x="152" y="309.2" font-size="4.7" fill="#333" text-anchor="start" >KL=1000</text>
<line x1="195.4" y1="316" x2="195.4" y2="327" stroke="#4a4a4a" stroke-width="0.45" />
<line x1="215.4" y1="316" x2="215.4" y2="333" stroke="#4a4a4a" stroke-width="0.45" />
<line x1="195.6" y1="318.4" x2="215.2" y2="318.4" stroke="#4a4a4a" stroke-width="0.5" />
<path d="M195.60,318.40 L197.66,317.62 L197.66,319.18Z" fill="#222"/>
<path d="M215.20,318.40 L213.14,319.18 L213.14,317.62Z" fill="#222"/>
<line x1="228" y1="318.4" x2="222.2" y2="318.4" stroke="#4a4a4a" stroke-width="0.5" />
<path d="M222.20,318.40 L224.26,317.62 L224.26,319.18Z" fill="#222"/>
<text x="203" y="317.3" font-size="4.8" fill="#333" text-anchor="start" >15</text>
<text x="217.8" y="317.3" font-size="4.8" fill="#333" text-anchor="start" >5</text>
<circle cx="89.4" cy="330" r="6.6" fill="#d6d6d8" stroke="#444" stroke-width="0.9" />
<line x1="72" y1="323.4" x2="89" y2="323.4" stroke="#4a4a4a" stroke-width="0.4" />
<line x1="72" y1="336.6" x2="89" y2="336.6" stroke="#4a4a4a" stroke-width="0.4" />
<line x1="75.4" y1="323.6" x2="75.4" y2="336.4" stroke="#4a4a4a" stroke-width="0.45" />
<path d="M75.40,323.60 L76.10,325.47 L74.70,325.47Z" fill="#222"/>
<path d="M75.40,336.40 L74.70,334.53 L76.10,334.53Z" fill="#222"/>
<text x="72.8" y="330" font-size="4.4" fill="#333" text-anchor="middle" transform="rotate(-90 72.8 330)" >ø10</text>
<rect x="96" y="326.3" width="41" height="6.8" rx="0" fill="#d9d9dc" stroke="#555" stroke-width="0.6" />
<line x1="96" y1="328.6" x2="137" y2="328.6" stroke="#888" stroke-width="0.5" />
<line x1="96" y1="330.9" x2="137" y2="330.9" stroke="#888" stroke-width="0.5" />
<path d="M136,325.5 L138.5,334 M139.5,325.5 L142,334" stroke="#777" stroke-width="0.5" fill="none" />
<rect x="141" y="326.3" width="54.4" height="7.6" rx="0" fill="#d9d9dc" stroke="#555" stroke-width="0.6" />
<rect x="146.7" y="327.3" width="44.7" height="5.8" rx="0" fill="#f8f8f8" stroke="#333" stroke-width="0.6" />
<text x="148.2" y="331.7" font-size="4.5" fill="#333" text-anchor="start" >Pt 100 Kl. B L=1000</text>
<rect x="195.4" y="326.5" width="20" height="6.6" rx="0" fill="#e3e3e6" stroke="#777" stroke-width="0.5" />
<line x1="195.4" y1="328.6" x2="215.4" y2="328.6" stroke="#999" stroke-width="0.4" />
<line x1="195.4" y1="330.9" x2="215.4" y2="330.9" stroke="#999" stroke-width="0.4" />
<line x1="215.4" y1="327.5" x2="222" y2="327.5" stroke="#777" stroke-width="0.5" />
<line x1="215.4" y1="329.5" x2="222" y2="329.5" stroke="#777" stroke-width="0.5" />
<line x1="215.4" y1="331.5" x2="222" y2="331.5" stroke="#777" stroke-width="0.5" />
<text x="128.7" y="339.0" font-size="3.8" fill="#333" text-anchor="start" >Kennzeichnung mit beschriftetem</text>
<text x="128.7" y="342.9" font-size="3.6" fill="#333" text-anchor="start" font-style="italic">Schrumpfschlauch ca.40mm lang</text>
<circle cx="128.75" cy="377.8" r="23.2" fill="#eeeef6" stroke="#8a8a8a" stroke-width="1.3" />
<line x1="99.4" y1="377.9" x2="148.7" y2="377.9" stroke="#555" stroke-width="0.5" stroke-dasharray="6,1.5,1,1.5"/>
<line x1="128.7" y1="352.5" x2="128.7" y2="401.9" stroke="#555" stroke-width="0.5" stroke-dasharray="6,1.5,1,1.5"/>
<rect x="102" y="368.5" width="4.3" height="15.2" rx="0" fill="#f7f7f7" stroke="#555" stroke-width="0.6" />
<rect x="102" y="368.5" width="4.3" height="3.0" rx="0" fill="#555" stroke="#444" stroke-width="0.3" />
<rect x="151.6" y="374.3" width="5.5" height="8" rx="0" fill="#d8d8d8" stroke="#777" stroke-width="0.5" />
<rect x="157.1" y="366.3" width="2.5" height="24" rx="0" fill="#5a5a5a" stroke="#444" stroke-width="0.4" />
<line x1="155" y1="368.8" x2="157.1" y2="368.8" stroke="#555" stroke-width="0.6" />
<line x1="155" y1="388.4" x2="157.1" y2="388.4" stroke="#555" stroke-width="0.6" />
<rect x="159.6" y="356.2" width="20.3" height="44.2" rx="0" fill="#fbfbfd" stroke="#444" stroke-width="0.8" />
<rect x="179.9" y="356.2" width="8" height="44.2" rx="0" fill="#fbfbfd" stroke="#444" stroke-width="0.8" />
<rect x="179.9" y="356.2" width="1.9" height="44.2" rx="0" fill="#999" stroke="none" stroke-width="0" />
<path d="M162,367.5 L169.7,367.5 L169.7,371 L179.2,371 M162,389.3 L169.7,389.3 L169.7,386 L179.2,386 M162,367.5 L162,389.3 M169.7,371 L169.7,386" stroke="#777" stroke-width="0.5" fill="none" stroke-dasharray="1.2,1"/>
<rect x="89.4" y="428.5" width="38.1" height="8.1" rx="0" fill="#fbfbfd" stroke="#3a3a3a" stroke-width="0.9" />
<circle cx="93.6" cy="432.7" r="1.8" fill="none" stroke="#555" stroke-width="0.5" stroke-dasharray="0.8,0.6"/>
<rect x="99.2" y="431.2" width="12.8" height="3.2" rx="0" fill="#fbfbfd" stroke="#555" stroke-width="0.6" />
<path d="M112,431.2 L126.9,429.6 M112,434.4 L126.9,435.8 M112,432.8 L126,432.8" stroke="#777" stroke-width="0.5" fill="none" />
<line x1="127.5" y1="428.3" x2="127.5" y2="436.8" stroke="#222" stroke-width="1.2" />
<rect x="127.5" y="430.6" width="10.7" height="5.0" rx="0" fill="#fbfbfd" stroke="#444" stroke-width="0.7" />
<rect x="138.2" y="429.4" width="26.5" height="7.300000000000011" rx="0" fill="#8a8a8a" stroke="none" stroke-width="0" />
<line x1="138.90" y1="429.5" x2="139.80" y2="436.59999999999997" stroke="#3a3a3a" stroke-width="1.2" />
<line x1="141.10" y1="429.5" x2="142.00" y2="436.59999999999997" stroke="#3a3a3a" stroke-width="1.2" />
<line x1="143.30" y1="429.5" x2="144.20" y2="436.59999999999997" stroke="#3a3a3a" stroke-width="1.2" />
<line x1="145.50" y1="429.5" x2="146.40" y2="436.59999999999997" stroke="#3a3a3a" stroke-width="1.2" />
<line x1="147.70" y1="429.5" x2="148.60" y2="436.59999999999997" stroke="#3a3a3a" stroke-width="1.2" />
<line x1="149.90" y1="429.5" x2="150.80" y2="436.59999999999997" stroke="#3a3a3a" stroke-width="1.2" />
<line x1="152.10" y1="429.5" x2="153.00" y2="436.59999999999997" stroke="#3a3a3a" stroke-width="1.2" />
<line x1="154.30" y1="429.5" x2="155.20" y2="436.59999999999997" stroke="#3a3a3a" stroke-width="1.2" />
<line x1="156.50" y1="429.5" x2="157.40" y2="436.59999999999997" stroke="#3a3a3a" stroke-width="1.2" />
<line x1="158.70" y1="429.5" x2="159.60" y2="436.59999999999997" stroke="#3a3a3a" stroke-width="1.2" />
<line x1="160.90" y1="429.5" x2="161.80" y2="436.59999999999997" stroke="#3a3a3a" stroke-width="1.2" />
<line x1="163.10" y1="429.5" x2="164.00" y2="436.59999999999997" stroke="#3a3a3a" stroke-width="1.2" />
<line x1="138.2" y1="429.7" x2="164.7" y2="429.7" stroke="#555" stroke-width="0.6" />
<line x1="138.2" y1="436.4" x2="164.7" y2="436.4" stroke="#555" stroke-width="0.6" />
<rect x="137.8" y="429.6" width="7.4" height="6.9" rx="1" fill="#2a2a2a" stroke="none" stroke-width="0" />
<path d="M141.6,430.8 Q143,430.8 143,433 Q143,435.3 141.6,435.3 Q140.2,435.3 140.2,433 Q140.2,430.8 141.6,430.8Z" stroke="#ddd" stroke-width="0.6" fill="none" />
<rect x="164.7" y="430.7" width="35.4" height="4.0" rx="0" fill="#e0e0e4" stroke="#777" stroke-width="0.6" />
<rect x="200.1" y="431" width="7.3" height="3.7" rx="0" fill="#333" stroke="#333" stroke-width="0.3" />
<path d="M207.4,432 Q210,428.2 214,428.2 L226.8,428.2 M207.4,432.4 Q211,430.2 215,430.2 L226.8,430.2 M207.4,433.6 Q211,434.7 215,434.7 L226.8,434.7 M207.4,434.2 Q210,436.8 214,436.8 L226.8,436.8" stroke="#333" stroke-width="0.7" fill="none" />
<line x1="76" y1="428.5" x2="89.4" y2="428.5" stroke="#4a4a4a" stroke-width="0.45" />
<line x1="76" y1="436.6" x2="89.4" y2="436.6" stroke="#4a4a4a" stroke-width="0.45" />
<line x1="78.1" y1="423" x2="78.1" y2="428.5" stroke="#4a4a4a" stroke-width="0.45" />
<path d="M78.10,428.50 L77.40,426.63 L78.80,426.63Z" fill="#222"/>
<line x1="78.1" y1="442" x2="78.1" y2="436.6" stroke="#4a4a4a" stroke-width="0.45" />
<path d="M78.10,436.60 L78.80,438.47 L77.40,438.47Z" fill="#222"/>
<text x="76.9" y="444.3" font-size="5.2" fill="#333" text-anchor="middle" transform="rotate(-90 76.9 444.3)" >■6 (6,5 o. 4,5)</text>
<text x="87" y="415.5" font-size="5.3" fill="#333" text-anchor="start" >Befestigungs-</text>
<text x="87" y="420.2" font-size="5.3" fill="#333" text-anchor="start" >bohrung</text>
<text x="87" y="425" font-size="5.2" fill="#333" text-anchor="start" >Ø3,2 mm</text>
<line x1="94.8" y1="425.5" x2="93.6" y2="431" stroke="#4a4a4a" stroke-width="0.45" />
<text x="132.3" y="420.5" font-size="5.3" fill="#333" text-anchor="start" >Crimpstelle</text>
<line x1="144" y1="422" x2="141.5" y2="430" stroke="#4a4a4a" stroke-width="0.45" />
<text x="170" y="415.7" font-size="5.3" fill="#333" text-anchor="start" >Edelstahlknickschutz-</text>
<text x="170" y="422.3" font-size="5.3" fill="#333" text-anchor="start" >feder</text>
<line x1="168.7" y1="420.5" x2="158.7" y2="430" stroke="#4a4a4a" stroke-width="0.45" />
<line x1="89.4" y1="436.6" x2="89.4" y2="449" stroke="#4a4a4a" stroke-width="0.45" />
<line x1="127.5" y1="436.8" x2="127.5" y2="449" stroke="#4a4a4a" stroke-width="0.45" />
<line x1="144.5" y1="437" x2="144.5" y2="449" stroke="#4a4a4a" stroke-width="0.45" />
<line x1="226.1" y1="437" x2="226.1" y2="449" stroke="#4a4a4a" stroke-width="0.45" />
<line x1="89.6" y1="447.3" x2="127.3" y2="447.3" stroke="#4a4a4a" stroke-width="0.5" />
<path d="M89.60,447.30 L91.66,446.52 L91.66,448.08Z" fill="#222"/>
<path d="M127.30,447.30 L125.24,448.08 L125.24,446.52Z" fill="#222"/>
<line x1="127.7" y1="447.3" x2="144.3" y2="447.3" stroke="#4a4a4a" stroke-width="0.5" />
<path d="M127.70,447.30 L129.76,446.52 L129.76,448.08Z" fill="#222"/>
<path d="M144.30,447.30 L142.24,448.08 L142.24,446.52Z" fill="#222"/>
<line x1="144.7" y1="447.3" x2="225.9" y2="447.3" stroke="#4a4a4a" stroke-width="0.5" />
<path d="M144.70,447.30 L146.76,446.52 L146.76,448.08Z" fill="#222"/>
<path d="M225.90,447.30 L223.84,448.08 L223.84,446.52Z" fill="#222"/>
<text x="106.1" y="446.9" font-size="5.6" fill="#333" text-anchor="start" >30</text>
<text x="129.9" y="446.9" font-size="4.7" fill="#333" text-anchor="start" >10...15</text>
<text x="182" y="446.5" font-size="5.6" fill="#333" text-anchor="start" >KL</text>
<clipPath id="prism"><path d="M70.2,477.3 Q78.5,479.2 86.8,477.1 L86.8,480.7 L83.2,485.6 L86.6,490.9 L86.6,493.5 Q78.5,492.2 70.3,493.5 L70.3,491 L73.5,485.3 L70.2,480 Z"/></clipPath>
<path d="M70.2,477.3 Q78.5,479.2 86.8,477.1 L86.8,480.7 L83.2,485.6 L86.6,490.9 L86.6,493.5 Q78.5,492.2 70.3,493.5 L70.3,491 L73.5,485.3 L70.2,480 Z" stroke="#444" stroke-width="0.8" fill="#fbfbfd" />
<path d="M64.0,494 L81.0,477 M71.0,494 L88.0,477 M78.0,494 L95.0,477" stroke="#555" stroke-width="0.6" fill="none" clip-path="url(#prism)"/>
<line x1="70" y1="485.2" x2="175" y2="485.2" stroke="#999" stroke-width="0.45" stroke-dasharray="5,1.5,1,1.5"/>
<rect x="101.3" y="477.3" width="26.2" height="16.3" rx="0" fill="#fbfbfd" stroke="#444" stroke-width="0.8" />
<line x1="101.3" y1="477.4" x2="127.5" y2="477.4" stroke="#555" stroke-width="1.2" />
<line x1="101.3" y1="493.5" x2="127.5" y2="493.5" stroke="#555" stroke-width="1.2" />
<rect x="127.5" y="479.3" width="15.7" height="12.1" rx="0" fill="#fbfbfd" stroke="#444" stroke-width="0.7" />
<path d="M143.3,477 L164,477 Q166,477 166,479 L166,491 Q166,493 164,493 L143.3,493 Z" stroke="#444" stroke-width="0.8" fill="#fbfbfd" />
<line x1="143.3" y1="477.1" x2="164" y2="477.1" stroke="#555" stroke-width="1.1" />
<line x1="143.3" y1="492.9" x2="164" y2="492.9" stroke="#555" stroke-width="1.1" />
<rect x="166" y="480" width="9.4" height="10.4" rx="0" fill="#fbfbfd" stroke="#777" stroke-width="0.6" />
<line x1="70" y1="485.2" x2="175" y2="485.2" stroke="#aaa" stroke-width="0.45" stroke-dasharray="5,1.5,1,1.5"/>
<path d="M175.4,479.4 Q190,479.5 204,483 L224.1,493.7 L224.1,502.4 L204,497 Q190,492 175.4,491.5 Z" stroke="#777" stroke-width="0.6" fill="#fbfbfd" />
<clipPath id="spr66"><path d="M175.4,479.4 Q190,479.5 204,483 L204,497 Q190,492 175.4,491.5 Z"/></clipPath>
<rect x="175" y="478" width="29.5" height="20" rx="0" fill="#c4c4c8" stroke="none" stroke-width="0" clip-path="url(#spr66)"/>
<path d="M174.0,477 L179.0,499 M176.6,477 L181.6,499 M179.2,477 L184.2,499 M181.8,477 L186.8,499 M184.4,477 L189.4,499 M187.0,477 L192.0,499 M189.6,477 L194.6,499 M192.2,477 L197.2,499 M194.8,477 L199.8,499 M197.4,477 L202.4,499 M200.0,477 L205.0,499" stroke="#555" stroke-width="0.7" fill="none" clip-path="url(#spr66)"/>
<line x1="204" y1="483" x2="204" y2="497" stroke="#777" stroke-width="0.5" />
<path d="M204,490 L224.1,498" stroke="#aaa" stroke-width="0.4" fill="none" />
<line x1="114.4" y1="468.6" x2="114.4" y2="500.7" stroke="#555" stroke-width="0.5" />
<line x1="114.4" y1="472.1" x2="125" y2="472.1" stroke="#4a4a4a" stroke-width="0.5" />
<path d="M114.60,472.10 L119.28,470.34 L119.28,473.86Z" fill="#222"/>
<line x1="114.4" y1="497.7" x2="125" y2="497.7" stroke="#4a4a4a" stroke-width="0.5" />
<path d="M114.60,497.70 L119.28,495.94 L119.28,499.46Z" fill="#222"/>
<line x1="101.3" y1="493.6" x2="101.3" y2="518" stroke="#4a4a4a" stroke-width="0.45" />
<line x1="127.5" y1="493.6" x2="127.5" y2="510" stroke="#4a4a4a" stroke-width="0.45" />
<line x1="143.3" y1="491.4" x2="143.3" y2="510" stroke="#4a4a4a" stroke-width="0.45" />
<line x1="166" y1="493" x2="166" y2="518" stroke="#4a4a4a" stroke-width="0.45" />
<line x1="101.5" y1="507.9" x2="127.3" y2="507.9" stroke="#4a4a4a" stroke-width="0.45" />
<path d="M101.50,507.90 L105.81,506.28 L105.81,509.52Z" fill="#222"/>
<path d="M127.30,507.90 L122.99,509.52 L122.99,506.28Z" fill="#222"/>
<line x1="127.7" y1="507.9" x2="143.1" y2="507.9" stroke="#4a4a4a" stroke-width="0.45" />
<path d="M127.70,507.90 L132.01,506.28 L132.01,509.52Z" fill="#222"/>
<path d="M143.10,507.90 L138.79,509.52 L138.79,506.28Z" fill="#222"/>
<line x1="101.5" y1="516.4" x2="165.8" y2="516.4" stroke="#4a4a4a" stroke-width="0.45" />
<path d="M101.50,516.40 L105.81,514.78 L105.81,518.02Z" fill="#222"/>
<path d="M165.80,516.40 L161.49,518.02 L161.49,514.78Z" fill="#222"/>
<text x="112.4" y="508.7" font-size="4.8" fill="#333" text-anchor="start" >26</text>
<text x="133.4" y="505.3" font-size="4.8" fill="#333" text-anchor="start" >12</text>
<text x="129.9" y="516.0" font-size="4.8" fill="#333" text-anchor="start" >80</text>
<text x="180" y="470.3" font-size="4.8" fill="#333" text-anchor="start" >gecrimpt</text>
<line x1="180" y1="471.7" x2="196" y2="471.7" stroke="#4a4a4a" stroke-width="0.4" />
<line x1="180" y1="471.7" x2="175.5" y2="480" stroke="#4a4a4a" stroke-width="0.4" />
<text x="201.4" y="506.8" font-size="4.6" fill="#333" text-anchor="start" >Option:</text>
<text x="201.4" y="511.7" font-size="4.6" fill="#333" text-anchor="start" >Edelstahl-</text>
<text x="201.4" y="516.7" font-size="4.6" fill="#333" text-anchor="start" >Knickschutz-</text>
<text x="201.4" y="521.5" font-size="4.6" fill="#333" text-anchor="start" >feder</text>
<line x1="188.7" y1="493.7" x2="200.7" y2="523" stroke="#4a4a4a" stroke-width="0.4" />
<line x1="200.7" y1="523" x2="223.4" y2="523" stroke="#4a4a4a" stroke-width="0.4" />
</svg>
</body></html>
